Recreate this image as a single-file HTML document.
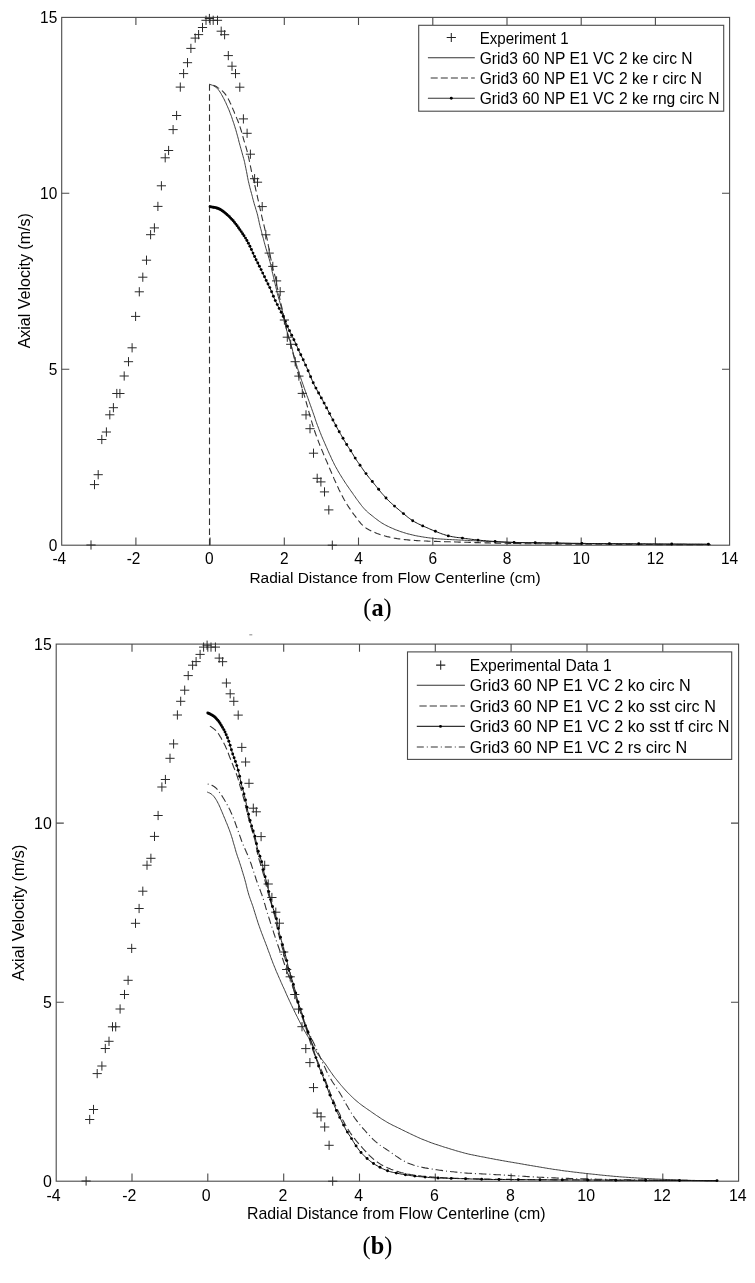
<!DOCTYPE html><html><head><meta charset="utf-8"><title>Axial velocity profiles</title><style>html,body{margin:0;padding:0;background:#fff}svg{display:block;filter:blur(0.3px)}text{font-family:"Liberation Sans",Arial,sans-serif;fill:#000}.cap{font-family:"Liberation Serif","Times New Roman",serif;font-weight:bold}</style></head><body>
<svg width="755" height="1283" viewBox="0 0 755 1283">
<rect width="755" height="1283" fill="#fff"/>
<rect x="61.7" y="17.4" width="667.9" height="527.8" fill="none" stroke="#4a4a4a" stroke-width="1.1"/>
<path d="M135.9,545.2v-7.6M135.9,17.4v7.6M210.1,545.2v-7.6M210.1,17.4v7.6M284.3,545.2v-7.6M284.3,17.4v7.6M358.5,545.2v-7.6M358.5,17.4v7.6M432.8,545.2v-7.6M432.8,17.4v7.6M507.0,545.2v-7.6M507.0,17.4v7.6M581.2,545.2v-7.6M581.2,17.4v7.6M655.4,545.2v-7.6M655.4,17.4v7.6M61.7,369.3h7.6M729.6,369.3h-7.6M61.7,193.3h7.6M729.6,193.3h-7.6" stroke="#4a4a4a" stroke-width="1.1" fill="none"/>
<text x="59.3" y="564.3" font-size="15.90" text-anchor="middle" textLength="13.74" lengthAdjust="spacingAndGlyphs">-4</text>
<text x="133.5" y="564.3" font-size="15.90" text-anchor="middle" textLength="13.74" lengthAdjust="spacingAndGlyphs">-2</text>
<text x="209.3" y="564.3" font-size="15.90" text-anchor="middle" textLength="8.60" lengthAdjust="spacingAndGlyphs">0</text>
<text x="284.3" y="564.3" font-size="15.90" text-anchor="middle" textLength="8.60" lengthAdjust="spacingAndGlyphs">2</text>
<text x="358.5" y="564.3" font-size="15.90" text-anchor="middle" textLength="8.60" lengthAdjust="spacingAndGlyphs">4</text>
<text x="432.8" y="564.3" font-size="15.90" text-anchor="middle" textLength="8.60" lengthAdjust="spacingAndGlyphs">6</text>
<text x="507.0" y="564.3" font-size="15.90" text-anchor="middle" textLength="8.60" lengthAdjust="spacingAndGlyphs">8</text>
<text x="581.2" y="564.3" font-size="15.90" text-anchor="middle" textLength="17.19" lengthAdjust="spacingAndGlyphs">10</text>
<text x="655.4" y="564.3" font-size="15.90" text-anchor="middle" textLength="17.19" lengthAdjust="spacingAndGlyphs">12</text>
<text x="729.6" y="564.3" font-size="15.90" text-anchor="middle" textLength="17.19" lengthAdjust="spacingAndGlyphs">14</text>
<text x="57.3" y="550.7" font-size="15.90" text-anchor="end" textLength="8.60" lengthAdjust="spacingAndGlyphs">0</text>
<text x="57.3" y="374.8" font-size="15.90" text-anchor="end" textLength="8.60" lengthAdjust="spacingAndGlyphs">5</text>
<text x="57.3" y="198.8" font-size="15.90" text-anchor="end" textLength="17.19" lengthAdjust="spacingAndGlyphs">10</text>
<text x="57.3" y="22.9" font-size="15.90" text-anchor="end" textLength="17.19" lengthAdjust="spacingAndGlyphs">15</text>
<text x="395.0" y="582.6" font-size="15.50" text-anchor="middle">Radial Distance from Flow Centerline (cm)</text>
<text transform="translate(29.9,280.8) rotate(-90)" font-size="16.00" text-anchor="middle">Axial Velocity (m/s)</text>
<path d="M209.7,84.4L211.1,84.8 212.5,85.3 213.8,85.9 215.1,86.7 216.3,87.6 217.4,88.5 218.3,89.6 219.2,90.8 220.1,92.1 220.9,93.4 221.6,94.7 222.4,96.0 223.1,97.4 223.8,98.7 224.5,100.0 225.1,101.4 225.8,102.7 226.4,104.1 227.0,105.5 227.6,106.8 228.2,108.2 228.8,109.6 229.4,111.0 229.9,112.4 230.4,113.8 231.0,115.2 231.5,116.6 232.0,118.0 232.4,119.4 232.9,120.9 233.4,122.3 233.9,123.7 234.3,125.1 234.8,126.6 235.2,128.0 235.7,129.4 236.1,130.9 236.5,132.3 236.9,133.8 237.3,135.2 237.7,136.7 238.1,138.1 238.5,139.6 238.8,141.0 239.2,142.5 239.6,143.9 240.0,145.4 240.4,146.8 240.8,148.3 241.2,149.7 241.6,151.1 242.0,152.6 242.4,154.0 242.8,155.5 243.2,156.9 243.6,158.4 244.0,159.8 244.4,161.3 244.7,162.7 245.0,164.2 245.3,165.7 245.6,167.1 245.9,168.6 246.2,170.1 246.5,171.5 246.8,173.0 247.1,174.5 247.3,176.0 247.6,177.4 247.9,178.9 248.2,180.4 248.5,181.8 248.9,183.3 249.2,184.8 249.6,186.2 249.9,187.7 250.3,189.1 250.7,190.6 251.1,192.0 251.5,193.5 251.9,194.9 252.3,196.4 252.6,197.8 253.0,199.3 253.4,200.7 253.8,202.2 254.2,203.6 254.6,205.1 255.1,206.5 255.5,207.9 255.9,209.4 256.4,210.8 256.8,212.2 257.2,213.7 257.6,215.1 257.9,216.6 258.2,218.0 258.6,219.5 258.9,221.0 259.2,222.4 259.5,223.9 259.9,225.4 260.2,226.8 260.6,228.3 261.0,229.7 261.4,231.2 261.7,232.6 262.1,234.1 262.5,235.5 262.9,237.0 263.3,238.4 263.7,239.9 264.0,241.3 264.4,242.8 264.8,244.2 265.2,245.7 265.6,247.1 266.0,248.6 266.5,250.0 266.9,251.4 267.3,252.9 267.8,254.3 268.2,255.7 268.7,257.2 269.1,258.6 269.5,260.0 269.9,261.5 270.3,263.0 270.6,264.4 270.9,265.9 271.3,267.3 271.6,268.8 271.9,270.3 272.2,271.7 272.6,273.2 272.9,274.6 273.3,276.1 273.6,277.6 274.0,279.0 274.3,280.5 274.6,281.9 275.0,283.4 275.3,284.9 275.7,286.3 276.0,287.8 276.4,289.2 276.7,290.7 277.1,292.2 277.4,293.6 277.8,295.1 278.2,296.5 278.6,298.0 279.0,299.4 279.5,300.8 279.9,302.3 280.3,303.7 280.7,305.1 281.1,306.6 281.5,308.0 281.9,309.5 282.2,311.0 282.6,312.4 282.9,313.9 283.2,315.4 283.5,316.8 283.8,318.3 284.2,319.8 284.5,321.2 284.8,322.7 285.1,324.1 285.5,325.6 285.9,327.1 286.2,328.5 286.6,330.0 287.0,331.4 287.4,332.8 287.9,334.3 288.3,335.7 288.7,337.2 289.2,338.6 289.6,340.0 290.0,341.5 290.5,342.9 290.9,344.3 291.3,345.8 291.7,347.2 292.1,348.7 292.5,350.1 292.8,351.6 293.2,353.0 293.6,354.5 294.0,355.9 294.4,357.4 294.8,358.8 295.2,360.3 295.6,361.7 296.0,363.2 296.4,364.6 296.9,366.0 297.3,367.5 297.8,368.9 298.2,370.3 298.7,371.7 299.1,373.2 299.6,374.6 300.1,376.0 300.6,377.4 301.0,378.9 301.5,380.3 302.0,381.7 302.5,383.1 303.0,384.5 303.5,385.9 304.0,387.4 304.5,388.8 305.0,390.2 305.5,391.6 306.0,393.0 306.5,394.4 307.0,395.8 307.6,397.2 308.1,398.7 308.6,400.1 309.1,401.5 309.6,402.9 310.1,404.3 310.6,405.7 311.1,407.1 311.6,408.5 312.1,410.0 312.6,411.4 313.1,412.8 313.6,414.2 314.1,415.6 314.6,417.0 315.1,418.5 315.5,419.9 316.0,421.3 316.5,422.7 317.0,424.1 317.5,425.5 318.1,426.9 318.6,428.3 319.1,429.7 319.7,431.1 320.2,432.5 320.8,433.9 321.3,435.3 321.9,436.7 322.5,438.1 323.1,439.5 323.7,440.8 324.3,442.2 324.9,443.6 325.5,445.0 326.1,446.3 326.7,447.7 327.3,449.1 327.9,450.5 328.5,451.8 329.1,453.2 329.7,454.6 330.4,455.9 331.0,457.3 331.6,458.7 332.2,460.0 332.9,461.4 333.6,462.7 334.2,464.1 334.9,465.4 335.6,466.7 336.3,468.0 337.1,469.3 337.8,470.7 338.6,472.0 339.3,473.2 340.1,474.5 340.9,475.8 341.7,477.1 342.5,478.4 343.3,479.6 344.1,480.9 344.9,482.1 345.7,483.4 346.6,484.6 347.4,485.9 348.3,487.1 349.1,488.3 350.0,489.6 350.8,490.8 351.7,492.0 352.6,493.2 353.4,494.5 354.3,495.7 355.2,496.9 356.0,498.2 356.9,499.4 357.8,500.6 358.7,501.8 359.6,503.0 360.5,504.2 361.4,505.4 362.4,506.6 363.3,507.7 364.3,508.8 365.4,509.9 366.4,511.0 367.5,512.0 368.7,513.0 369.8,513.9 371.0,514.9 372.2,515.8 373.3,516.7 374.5,517.7 375.7,518.6 376.9,519.5 378.1,520.4 379.3,521.3 380.5,522.1 381.8,523.0 383.1,523.7 384.4,524.5 385.7,525.2 387.0,525.9 388.4,526.5 389.7,527.2 391.1,527.8 392.5,528.4 393.9,529.0 395.2,529.6 396.6,530.1 398.0,530.6 399.5,531.2 400.9,531.7 402.3,532.1 403.7,532.6 405.2,533.0 406.6,533.5 408.0,533.9 409.5,534.2 410.9,534.6 412.4,534.9 413.9,535.3 415.3,535.6 416.8,535.9 418.3,536.2 419.8,536.4 421.2,536.7 422.7,536.9 424.2,537.2 425.7,537.4 427.2,537.6 428.7,537.8 430.2,538.0 431.6,538.2 433.1,538.3 434.6,538.5 436.1,538.6 437.6,538.8 439.1,538.9 440.6,539.0 442.1,539.1 443.6,539.2 445.1,539.3 446.6,539.4 448.1,539.5 449.6,539.5 451.1,539.6 452.6,539.7 454.1,539.8 455.6,539.8 457.1,539.9 458.6,540.0 460.1,540.1 461.6,540.1 463.1,540.2 464.6,540.3 466.1,540.3 467.6,540.4 469.1,540.5 470.6,540.6 472.1,540.6 473.6,540.7 475.1,540.8 476.6,540.9 478.1,540.9 479.6,541.0 481.0,541.1 482.5,541.1 484.0,541.2 485.5,541.3 487.0,541.4 488.5,541.4 490.0,541.5 491.5,541.6 493.0,541.6 494.5,541.7 496.0,541.8 497.5,541.8 499.0,541.9 500.5,542.0 502.0,542.0 503.5,542.1 505.0,542.1 506.5,542.2 508.0,542.2 509.5,542.3 511.0,542.3 512.5,542.4 514.0,542.4 515.5,542.4 517.0,542.5 518.5,542.5 520.0,542.6 521.5,542.6 523.0,542.6 524.5,542.7 526.0,542.7 527.5,542.7 529.0,542.8 530.5,542.8 532.0,542.8 533.5,542.9 535.0,542.9 536.5,542.9 538.0,543.0 539.5,543.0 541.0,543.0 542.5,543.0 544.0,543.1 545.5,543.1 547.0,543.1 548.5,543.2 550.0,543.2 551.5,543.2 553.0,543.2 554.5,543.2 556.0,543.3 557.5,543.3 559.0,543.3 560.5,543.3 562.0,543.4 563.5,543.4 565.0,543.4 566.5,543.4 568.0,543.4 569.5,543.5 571.0,543.5 572.5,543.5 574.0,543.5 575.5,543.5 577.0,543.6 578.5,543.6 580.0,543.6 581.5,543.6 583.0,543.6 584.5,543.6 586.0,543.7 587.5,543.7 589.0,543.7 590.5,543.7 592.0,543.7 593.5,543.7 595.0,543.8 596.5,543.8 598.0,543.8 599.5,543.8 601.0,543.8 602.5,543.8 604.0,543.8 605.5,543.8 607.0,543.9 608.5,543.9 610.0,543.9 611.5,543.9 613.0,543.9 614.5,543.9 616.0,543.9 617.5,543.9 619.0,544.0 620.5,544.0 622.0,544.0 623.5,544.0 625.0,544.0 626.5,544.0 628.0,544.0 629.5,544.0 631.0,544.0 632.5,544.0 634.0,544.0 635.5,544.1 637.0,544.1 638.5,544.1 640.0,544.1 641.5,544.1 643.0,544.1 644.5,544.1 646.0,544.1 647.5,544.1 649.0,544.1 650.5,544.1 652.0,544.2 653.5,544.2 655.0,544.2 656.5,544.2 658.0,544.2 659.5,544.2 661.0,544.2 662.5,544.2 664.0,544.2 665.5,544.2 667.0,544.2 668.5,544.2 670.0,544.3 671.5,544.3 673.0,544.3 674.5,544.3 676.0,544.3 677.5,544.3 679.0,544.3 680.5,544.3 682.0,544.3 683.5,544.3 685.0,544.3 686.5,544.4 688.0,544.4 689.5,544.4 691.0,544.4 692.5,544.4 694.0,544.4 695.5,544.4 697.0,544.4 698.5,544.4 700.0,544.4 701.5,544.4 703.0,544.5 704.5,544.5 706.0,544.5 707.5,544.5 709.0,544.5 710.5,544.5" stroke="#333333" stroke-width="0.95" fill="none"/>
<path d="M209.5,545.2L209.5,85.2L209.7,84.4L211.1,84.7 212.5,85.1 213.9,85.5 215.3,86.1 216.6,86.8 217.8,87.6 219.1,88.4 220.3,89.3 221.5,90.2 222.6,91.2 223.7,92.3 224.7,93.4 225.6,94.6 226.5,95.8 227.3,97.0 228.0,98.3 228.7,99.7 229.4,101.0 230.0,102.4 230.7,103.7 231.3,105.1 231.9,106.5 232.4,107.9 233.0,109.3 233.6,110.6 234.2,112.0 234.7,113.4 235.3,114.8 235.9,116.2 236.5,117.6 237.0,118.9 237.6,120.3 238.2,121.7 238.7,123.1 239.2,124.5 239.7,125.9 240.2,127.4 240.6,128.8 241.1,130.2 241.5,131.7 241.9,133.1 242.3,134.5 242.7,136.0 243.1,137.4 243.5,138.9 243.9,140.3 244.4,141.8 244.8,143.2 245.2,144.6 245.7,146.1 246.1,147.5 246.5,148.9 246.9,150.4 247.3,151.8 247.6,153.3 248.0,154.7 248.3,156.2 248.7,157.7 249.0,159.1 249.3,160.6 249.6,162.1 249.9,163.5 250.2,165.0 250.5,166.5 250.8,167.9 251.1,169.4 251.4,170.9 251.7,172.3 252.0,173.8 252.4,175.3 252.7,176.7 253.1,178.2 253.4,179.6 253.8,181.1 254.1,182.5 254.5,184.0 254.8,185.5 255.2,186.9 255.5,188.4 255.8,189.8 256.2,191.3 256.5,192.7 256.9,194.2 257.2,195.7 257.5,197.1 257.8,198.6 258.2,200.1 258.5,201.5 258.8,203.0 259.1,204.4 259.4,205.9 259.8,207.4 260.1,208.8 260.4,210.3 260.7,211.8 261.1,213.2 261.4,214.7 261.7,216.1 262.1,217.6 262.4,219.1 262.8,220.5 263.2,222.0 263.5,223.4 263.9,224.9 264.2,226.3 264.6,227.8 264.9,229.3 265.2,230.7 265.6,232.2 265.9,233.6 266.2,235.1 266.5,236.6 266.9,238.0 267.2,239.5 267.5,241.0 267.8,242.4 268.1,243.9 268.3,245.4 268.6,246.8 268.9,248.3 269.2,249.8 269.5,251.3 269.7,252.7 270.0,254.2 270.3,255.7 270.5,257.2 270.8,258.6 271.1,260.1 271.3,261.6 271.6,263.1 271.9,264.5 272.2,266.0 272.6,267.5 272.9,268.9 273.3,270.4 273.7,271.8 274.1,273.2 274.6,274.6 275.0,276.1 275.4,277.5 275.7,279.0 276.0,280.4 276.2,281.9 276.5,283.4 276.7,284.8 277.0,286.3 277.3,287.8 277.7,289.2 278.0,290.7 278.4,292.2 278.7,293.6 279.0,295.1 279.4,296.5 279.7,298.0 280.0,299.5 280.4,300.9 280.7,302.4 281.0,303.9 281.3,305.3 281.7,306.8 282.0,308.2 282.3,309.7 282.6,311.2 283.0,312.6 283.3,314.1 283.6,315.6 283.9,317.0 284.2,318.5 284.5,320.0 284.8,321.4 285.1,322.9 285.5,324.4 285.8,325.8 286.1,327.3 286.4,328.7 286.8,330.2 287.1,331.7 287.5,333.1 287.8,334.6 288.2,336.0 288.6,337.5 289.1,338.9 289.5,340.3 289.9,341.8 290.3,343.2 290.8,344.6 291.2,346.1 291.6,347.5 291.9,349.0 292.3,350.4 292.7,351.9 293.0,353.3 293.4,354.8 293.8,356.2 294.1,357.7 294.4,359.2 294.8,360.6 295.1,362.1 295.5,363.5 295.9,365.0 296.2,366.4 296.6,367.9 296.9,369.4 297.3,370.8 297.7,372.3 298.1,373.7 298.4,375.2 298.8,376.6 299.2,378.0 299.6,379.5 300.0,380.9 300.4,382.4 300.9,383.8 301.3,385.3 301.7,386.7 302.1,388.1 302.5,389.6 303.0,391.0 303.4,392.4 303.8,393.9 304.3,395.3 304.7,396.7 305.1,398.2 305.5,399.6 305.9,401.1 306.3,402.5 306.7,404.0 307.1,405.4 307.5,406.8 307.9,408.3 308.3,409.7 308.7,411.2 309.1,412.6 309.5,414.1 309.9,415.5 310.3,416.9 310.7,418.4 311.1,419.8 311.6,421.3 312.0,422.7 312.4,424.1 312.9,425.6 313.3,427.0 313.8,428.4 314.3,429.8 314.7,431.3 315.2,432.7 315.7,434.1 316.2,435.5 316.7,436.9 317.2,438.3 317.8,439.7 318.3,441.1 318.8,442.5 319.4,443.9 319.9,445.3 320.5,446.7 321.0,448.1 321.6,449.5 322.2,450.9 322.8,452.3 323.3,453.6 323.9,455.0 324.5,456.4 325.1,457.8 325.7,459.2 326.3,460.5 326.9,461.9 327.5,463.3 328.0,464.7 328.6,466.0 329.2,467.4 329.8,468.8 330.4,470.2 331.0,471.6 331.6,472.9 332.2,474.3 332.8,475.7 333.4,477.1 333.9,478.4 334.5,479.8 335.2,481.2 335.8,482.6 336.4,483.9 337.0,485.3 337.6,486.6 338.3,488.0 338.9,489.4 339.6,490.7 340.2,492.1 340.9,493.4 341.6,494.7 342.3,496.1 343.0,497.4 343.7,498.7 344.4,500.0 345.2,501.3 345.9,502.6 346.7,503.9 347.5,505.2 348.3,506.4 349.1,507.7 350.0,508.9 350.8,510.1 351.7,511.4 352.5,512.6 353.4,513.8 354.3,515.0 355.2,516.2 356.1,517.4 357.0,518.6 357.9,519.8 358.8,521.0 359.8,522.2 360.7,523.3 361.7,524.4 362.8,525.4 363.9,526.4 365.1,527.3 366.3,528.2 367.6,529.0 368.9,529.7 370.3,530.4 371.6,531.1 373.0,531.7 374.4,532.3 375.8,532.9 377.2,533.5 378.6,534.0 380.0,534.5 381.5,534.9 382.9,535.4 384.3,535.8 385.8,536.2 387.2,536.6 388.7,536.9 390.1,537.3 391.6,537.6 393.1,537.9 394.5,538.2 396.0,538.4 397.5,538.7 399.0,538.9 400.5,539.1 401.9,539.3 403.4,539.5 404.9,539.6 406.4,539.8 407.9,539.9 409.4,540.1 410.9,540.2 412.4,540.3 413.9,540.4 415.4,540.5 416.9,540.6 418.4,540.7 419.9,540.8 421.4,540.8 422.9,540.9 424.4,541.0 425.9,541.0 427.4,541.1 428.8,541.2 430.3,541.2 431.8,541.3 433.3,541.3 434.8,541.4 436.3,541.4 437.8,541.5 439.3,541.5 440.8,541.6 442.3,541.6 443.8,541.6 445.3,541.7 446.8,541.7 448.3,541.8 449.8,541.8 451.3,541.9 452.8,541.9 454.3,541.9 455.8,542.0 457.3,542.0 458.8,542.1 460.3,542.1 461.8,542.2 463.3,542.2 464.8,542.3 466.3,542.3 467.8,542.3 469.3,542.4 470.8,542.4 472.3,542.5 473.8,542.5 475.3,542.6 476.8,542.6 478.3,542.6 479.8,542.7 481.3,542.7 482.8,542.8 484.3,542.8 485.8,542.9 487.3,542.9 488.8,542.9 490.3,543.0 491.8,543.0 493.2,543.0 494.7,543.1 496.2,543.1 497.7,543.1 499.2,543.2 500.7,543.2 502.2,543.2 503.7,543.3 505.2,543.3 506.7,543.3 508.2,543.4 509.7,543.4 511.2,543.4 512.7,543.4 514.2,543.5 515.7,543.5 517.2,543.5 518.7,543.5 520.2,543.6 521.7,543.6 523.2,543.6 524.7,543.6 526.2,543.7 527.7,543.7 529.2,543.7 530.7,543.7 532.2,543.7 533.7,543.7 535.2,543.8 536.7,543.8 538.2,543.8 539.7,543.8 541.2,543.8 542.7,543.8 544.2,543.9 545.7,543.9 547.2,543.9 548.7,543.9 550.2,543.9 551.7,543.9 553.2,543.9 554.7,544.0 556.2,544.0 557.7,544.0 559.2,544.0 560.7,544.0 562.2,544.0 563.7,544.0 565.2,544.0 566.7,544.1 568.2,544.1 569.7,544.1 571.2,544.1 572.7,544.1 574.2,544.1 575.7,544.1 577.1,544.1 578.6,544.1 580.1,544.2 581.6,544.2 583.1,544.2 584.6,544.2 586.1,544.2 587.6,544.2 589.1,544.2 590.6,544.2 592.1,544.2 593.6,544.2 595.1,544.3 596.6,544.3 598.1,544.3 599.6,544.3 601.1,544.3 602.6,544.3 604.1,544.3 605.6,544.3 607.1,544.3 608.6,544.3 610.1,544.3 611.6,544.4 613.1,544.4 614.6,544.4 616.1,544.4 617.6,544.4 619.1,544.4 620.6,544.4 622.1,544.4 623.6,544.4 625.1,544.4 626.6,544.4 628.1,544.4 629.6,544.4 631.1,544.5 632.6,544.5 634.1,544.5 635.6,544.5 637.1,544.5 638.6,544.5 640.1,544.5 641.6,544.5 643.1,544.5 644.6,544.5 646.1,544.5 647.6,544.5 649.1,544.5 650.6,544.5 652.1,544.5 653.6,544.5 655.1,544.5 656.6,544.6 658.1,544.6 659.6,544.6 661.1,544.6 662.6,544.6 664.1,544.6 665.5,544.6 667.0,544.6 668.5,544.6 670.0,544.6 671.5,544.6 673.0,544.6 674.5,544.6 676.0,544.6 677.5,544.6 679.0,544.6 680.5,544.6 682.0,544.6 683.5,544.6 685.0,544.6 686.5,544.6 688.0,544.6 689.5,544.6 691.0,544.7 692.5,544.7 694.0,544.7 695.5,544.7 697.0,544.7 698.5,544.7 700.0,544.7 701.5,544.7 703.0,544.7 704.5,544.7 706.0,544.7 707.5,544.7 709.0,544.7 710.5,544.7" stroke="#333333" stroke-width="1.1" fill="none" stroke-dasharray="6.6 3.5"/>
<path d="M209.5,206.8L211.0,206.9 212.5,207.1 214.0,207.3 215.5,207.6 216.9,208.1 218.3,208.6 219.6,209.2 220.9,209.9 222.2,210.7 223.4,211.5 224.6,212.5 225.8,213.4 226.9,214.4 228.0,215.5 229.1,216.5 230.1,217.6 231.2,218.6 232.2,219.7 233.2,220.9 234.2,222.0 235.1,223.2 236.0,224.4 236.9,225.6 237.8,226.8 238.7,228.0 239.5,229.2 240.4,230.4 241.3,231.7 242.1,232.9 242.9,234.2 243.8,235.4 244.6,236.7 245.4,237.9 246.2,239.2 246.9,240.5 247.7,241.8 248.4,243.1 249.1,244.4 249.7,245.8 250.4,247.1 251.0,248.5 251.6,249.9 252.2,251.3 252.8,252.6 253.4,254.0 254.0,255.4 254.6,256.7 255.3,258.1 256.0,259.4 256.6,260.8 257.3,262.1 258.0,263.4 258.7,264.8 259.3,266.1 260.0,267.5 260.7,268.8 261.3,270.1 262.0,271.5 262.6,272.8 263.3,274.2 263.9,275.5 264.6,276.9 265.2,278.3 265.8,279.6 266.5,281.0 267.1,282.3 267.8,283.7 268.5,285.0 269.1,286.3 269.8,287.7 270.4,289.0 271.0,290.4 271.6,291.8 272.2,293.2 272.8,294.6 273.4,295.9 273.9,297.3 274.5,298.7 275.1,300.1 275.7,301.4 276.4,302.8 277.0,304.1 277.7,305.5 278.4,306.8 279.1,308.1 279.8,309.5 280.5,310.8 281.1,312.1 281.8,313.5 282.5,314.8 283.1,316.2 283.7,317.5 284.3,318.9 284.9,320.3 285.5,321.7 286.1,323.1 286.6,324.4 287.2,325.8 287.8,327.2 288.4,328.6 289.1,329.9 289.7,331.3 290.4,332.6 291.1,334.0 291.7,335.3 292.4,336.6 293.1,338.0 293.7,339.3 294.4,340.7 295.0,342.0 295.6,343.4 296.2,344.8 296.9,346.1 297.5,347.5 298.1,348.9 298.7,350.2 299.3,351.6 299.9,353.0 300.6,354.3 301.2,355.7 301.9,357.0 302.5,358.4 303.1,359.7 303.8,361.1 304.4,362.4 305.0,363.8 305.7,365.2 306.3,366.5 306.9,367.9 307.5,369.3 308.1,370.7 308.7,372.0 309.3,373.4 309.8,374.8 310.4,376.2 311.0,377.6 311.6,379.0 312.1,380.3 312.8,381.7 313.4,383.1 314.0,384.4 314.7,385.8 315.3,387.1 316.1,388.4 316.8,389.7 317.5,391.0 318.2,392.4 319.0,393.7 319.7,395.0 320.4,396.3 321.2,397.6 321.9,398.9 322.6,400.2 323.3,401.5 324.0,402.9 324.7,404.2 325.4,405.5 326.1,406.8 326.8,408.2 327.5,409.5 328.2,410.8 328.9,412.2 329.5,413.5 330.2,414.8 330.9,416.2 331.6,417.5 332.3,418.8 333.0,420.1 333.7,421.5 334.4,422.8 335.1,424.1 335.8,425.4 336.5,426.8 337.2,428.1 337.9,429.4 338.7,430.7 339.4,432.0 340.1,433.3 340.9,434.6 341.6,435.9 342.3,437.2 343.1,438.5 343.8,439.8 344.6,441.1 345.4,442.4 346.1,443.7 346.9,445.0 347.7,446.2 348.6,447.5 349.4,448.7 350.2,450.0 351.0,451.2 351.8,452.5 352.6,453.8 353.4,455.1 354.1,456.4 354.9,457.6 355.7,458.9 356.5,460.2 357.4,461.4 358.2,462.6 359.1,463.8 360.0,465.1 360.8,466.3 361.7,467.5 362.5,468.8 363.4,470.0 364.2,471.2 365.1,472.4 366.0,473.7 366.9,474.8 367.8,476.0 368.7,477.2 369.7,478.4 370.6,479.5 371.6,480.7 372.5,481.9 373.5,483.0 374.4,484.2 375.4,485.3 376.3,486.5 377.3,487.7 378.2,488.8 379.2,490.0 380.1,491.2 381.0,492.3 382.0,493.5 383.0,494.6 384.0,495.7 384.9,496.9 386.0,498.0 387.0,499.1 388.0,500.1 389.1,501.2 390.2,502.2 391.3,503.2 392.4,504.2 393.5,505.2 394.6,506.2 395.8,507.2 396.9,508.2 398.1,509.1 399.2,510.1 400.4,511.1 401.5,512.0 402.7,513.0 403.8,513.9 405.0,514.9 406.2,515.8 407.3,516.8 408.5,517.7 409.7,518.6 410.9,519.5 412.2,520.3 413.4,521.1 414.7,521.9 416.0,522.6 417.3,523.3 418.7,524.0 420.0,524.6 421.4,525.3 422.8,525.9 424.1,526.5 425.5,527.1 426.9,527.7 428.3,528.3 429.6,528.9 431.0,529.5 432.4,530.1 433.8,530.6 435.2,531.2 436.6,531.8 437.9,532.3 439.3,532.9 440.7,533.4 442.2,534.0 443.6,534.4 445.0,534.9 446.4,535.3 447.9,535.7 449.3,536.1 450.8,536.4 452.2,536.7 453.7,536.9 455.2,537.2 456.7,537.4 458.2,537.6 459.7,537.7 461.2,537.9 462.7,538.1 464.1,538.3 465.6,538.5 467.1,538.7 468.6,538.9 470.1,539.1 471.6,539.3 473.1,539.5 474.5,539.6 476.0,539.8 477.5,540.0 479.0,540.2 480.5,540.3 482.0,540.5 483.5,540.6 485.0,540.7 486.5,540.9 488.0,541.0 489.5,541.1 491.0,541.2 492.4,541.3 493.9,541.4 495.4,541.5 496.9,541.6 498.4,541.7 499.9,541.8 501.4,541.9 502.9,542.0 504.4,542.1 505.9,542.1 507.4,542.2 508.9,542.3 510.4,542.3 511.9,542.4 513.4,542.5 514.9,542.5 516.4,542.5 517.9,542.6 519.4,542.6 520.9,542.6 522.4,542.6 523.9,542.7 525.4,542.7 526.9,542.7 528.4,542.7 529.9,542.7 531.4,542.7 532.9,542.7 534.4,542.7 535.9,542.7 537.4,542.7 538.9,542.7 540.4,542.7 541.9,542.8 543.4,542.8 544.9,542.8 546.4,542.8 547.9,542.8 549.4,542.9 550.9,542.9 552.4,542.9 553.9,542.9 555.4,543.0 556.9,543.0 558.3,543.0 559.8,543.0 561.3,543.1 562.8,543.1 564.3,543.1 565.8,543.2 567.3,543.2 568.8,543.2 570.3,543.2 571.8,543.3 573.3,543.3 574.8,543.3 576.3,543.3 577.8,543.3 579.3,543.4 580.8,543.4 582.3,543.4 583.8,543.4 585.3,543.4 586.8,543.5 588.3,543.5 589.8,543.5 591.3,543.5 592.8,543.5 594.3,543.5 595.8,543.5 597.3,543.5 598.8,543.5 600.3,543.5 601.8,543.6 603.3,543.6 604.8,543.6 606.3,543.6 607.8,543.6 609.3,543.6 610.8,543.6 612.3,543.6 613.8,543.6 615.3,543.6 616.8,543.6 618.3,543.7 619.8,543.7 621.3,543.7 622.8,543.7 624.3,543.7 625.8,543.7 627.3,543.7 628.8,543.7 630.3,543.7 631.8,543.7 633.3,543.8 634.8,543.8 636.3,543.8 637.8,543.8 639.3,543.8 640.8,543.8 642.3,543.8 643.8,543.8 645.3,543.8 646.8,543.9 648.3,543.9 649.8,543.9 651.3,543.9 652.8,543.9 654.3,543.9 655.8,543.9 657.2,543.9 658.7,543.9 660.2,543.9 661.7,543.9 663.2,544.0 664.7,544.0 666.2,544.0 667.7,544.0 669.2,544.0 670.7,544.0 672.2,544.0 673.7,544.0 675.2,544.0 676.7,544.0 678.2,544.0 679.7,544.0 681.2,544.0 682.7,544.0 684.2,544.0 685.7,544.0 687.2,544.1 688.7,544.1 690.2,544.1 691.7,544.1 693.2,544.1 694.7,544.1 696.2,544.1 697.7,544.1 699.2,544.1 700.7,544.1 702.2,544.1 703.7,544.1 705.2,544.1 706.7,544.1 708.2,544.1" stroke="#111" stroke-width="1.0" fill="none"/>
<g fill="#000"><circle cx="210.1" cy="206.8" r="1.45"/><circle cx="211.2" cy="206.9" r="1.45"/><circle cx="212.2" cy="207.1" r="1.45"/><circle cx="213.3" cy="207.2" r="1.45"/><circle cx="214.3" cy="207.4" r="1.45"/><circle cx="215.4" cy="207.6" r="1.45"/><circle cx="216.5" cy="208.0" r="1.45"/><circle cx="217.6" cy="208.3" r="1.45"/><circle cx="218.7" cy="208.8" r="1.45"/><circle cx="219.9" cy="209.3" r="1.45"/><circle cx="221.0" cy="209.9" r="1.45"/><circle cx="222.2" cy="210.7" r="1.45"/><circle cx="223.3" cy="211.5" r="1.45"/><circle cx="224.5" cy="212.4" r="1.45"/><circle cx="225.7" cy="213.4" r="1.45"/><circle cx="226.9" cy="214.5" r="1.45"/><circle cx="228.1" cy="215.6" r="1.45"/><circle cx="229.4" cy="216.8" r="1.45"/><circle cx="230.6" cy="218.1" r="1.45"/><circle cx="231.9" cy="219.4" r="1.45"/><circle cx="233.2" cy="220.8" r="1.45"/><circle cx="234.5" cy="222.4" r="1.45"/><circle cx="235.8" cy="224.1" r="1.45"/><circle cx="237.1" cy="225.8" r="1.45"/><circle cx="238.5" cy="227.7" r="1.45"/><circle cx="239.8" cy="229.6" r="1.45"/><circle cx="241.2" cy="231.6" r="1.45"/><circle cx="242.6" cy="233.7" r="1.45"/><circle cx="244.0" cy="235.8" r="1.45"/><circle cx="245.5" cy="238.1" r="1.45"/><circle cx="246.9" cy="240.5" r="1.45"/><circle cx="248.4" cy="243.2" r="1.45"/><circle cx="249.9" cy="246.2" r="1.45"/><circle cx="251.4" cy="249.5" r="1.45"/><circle cx="253.0" cy="253.1" r="1.45"/><circle cx="254.6" cy="256.5" r="1.45"/><circle cx="256.1" cy="259.8" r="1.45"/><circle cx="257.8" cy="263.0" r="1.45"/><circle cx="259.4" cy="266.2" r="1.45"/><circle cx="261.1" cy="269.6" r="1.45"/><circle cx="262.7" cy="273.1" r="1.45"/><circle cx="264.5" cy="276.7" r="1.45"/><circle cx="266.2" cy="280.4" r="1.45"/><circle cx="268.0" cy="284.0" r="1.45"/><circle cx="269.8" cy="287.6" r="1.45"/><circle cx="271.6" cy="291.7" r="1.45"/><circle cx="273.4" cy="296.2" r="1.45"/><circle cx="275.3" cy="300.6" r="1.45"/><circle cx="277.3" cy="304.6" r="1.45"/><circle cx="279.2" cy="308.4" r="1.45"/><circle cx="281.2" cy="312.3" r="1.45"/><circle cx="283.2" cy="316.4" r="1.45"/><circle cx="285.3" cy="321.2" r="1.45"/><circle cx="287.4" cy="326.2" r="1.45"/><circle cx="289.5" cy="330.8" r="1.45"/><circle cx="291.7" cy="335.2" r="1.45"/><circle cx="293.9" cy="339.7" r="1.45"/><circle cx="296.1" cy="344.6" r="1.45"/><circle cx="298.4" cy="349.7" r="1.45"/><circle cx="300.8" cy="354.8" r="1.45"/><circle cx="303.2" cy="359.8" r="1.45"/><circle cx="305.6" cy="365.1" r="1.45"/><circle cx="308.1" cy="370.7" r="1.45"/><circle cx="310.6" cy="376.7" r="1.45"/><circle cx="313.2" cy="382.7" r="1.45"/><circle cx="315.9" cy="388.1" r="1.45"/><circle cx="318.6" cy="393.0" r="1.45"/><circle cx="321.3" cy="397.9" r="1.45"/><circle cx="324.1" cy="403.1" r="1.45"/><circle cx="326.6" cy="407.9" r="1.45"/><circle cx="329.6" cy="413.6" r="1.45"/><circle cx="332.9" cy="420.0" r="1.45"/><circle cx="335.9" cy="425.7" r="1.45"/><circle cx="339.2" cy="431.8" r="1.45"/><circle cx="343.0" cy="438.3" r="1.45"/><circle cx="346.7" cy="444.5" r="1.45"/><circle cx="350.8" cy="450.8" r="1.45"/><circle cx="355.2" cy="458.1" r="1.45"/><circle cx="360.0" cy="465.2" r="1.45"/><circle cx="366.0" cy="473.6" r="1.45"/><circle cx="372.3" cy="481.5" r="1.45"/><circle cx="378.6" cy="489.3" r="1.45"/><circle cx="386.0" cy="498.0" r="1.45"/><circle cx="394.5" cy="506.1" r="1.45"/><circle cx="403.4" cy="513.6" r="1.45"/><circle cx="412.7" cy="520.7" r="1.45"/><circle cx="422.7" cy="525.9" r="1.45"/><circle cx="435.4" cy="531.3" r="1.45"/><circle cx="448.3" cy="535.9" r="1.45"/><circle cx="462.4" cy="538.1" r="1.45"/><circle cx="478.0" cy="540.1" r="1.45"/><circle cx="495.1" cy="541.5" r="1.45"/><circle cx="514.0" cy="542.5" r="1.45"/><circle cx="535.2" cy="542.7" r="1.45"/><circle cx="557.1" cy="543.0" r="1.45"/><circle cx="581.9" cy="543.4" r="1.45"/><circle cx="609.4" cy="543.6" r="1.45"/><circle cx="638.7" cy="543.8" r="1.45"/><circle cx="671.7" cy="544.0" r="1.45"/><circle cx="708.4" cy="544.1" r="1.45"/></g>
<path d="M86.4,545.0h9.2M91.0,540.4v9.2M89.9,484.6h9.2M94.5,480.0v9.2M93.6,474.7h9.2M98.2,470.1v9.2M97.2,439.5h9.2M101.8,434.9v9.2M101.8,432.0h9.2M106.4,427.4v9.2M105.2,414.8h9.2M109.8,410.2v9.2M108.8,407.7h9.2M113.4,403.1v9.2M112.2,393.5h9.2M116.8,388.9v9.2M115.3,393.5h9.2M119.9,388.9v9.2M119.6,376.0h9.2M124.2,371.4v9.2M123.9,361.7h9.2M128.5,357.1v9.2M127.5,347.8h9.2M132.1,343.2v9.2M131.0,316.4h9.2M135.6,311.8v9.2M134.7,291.8h9.2M139.3,287.2v9.2M138.2,277.2h9.2M142.8,272.6v9.2M141.9,260.2h9.2M146.5,255.6v9.2M146.0,234.7h9.2M150.6,230.1v9.2M149.8,227.9h9.2M154.4,223.3v9.2M153.3,206.4h9.2M157.9,201.8v9.2M156.8,185.8h9.2M161.4,181.2v9.2M160.6,157.8h9.2M165.2,153.2v9.2M164.0,150.5h9.2M168.6,145.9v9.2M168.5,129.6h9.2M173.1,125.0v9.2M172.0,115.5h9.2M176.6,110.9v9.2M175.7,87.1h9.2M180.3,82.5v9.2M179.0,73.6h9.2M183.6,69.0v9.2M182.9,62.7h9.2M187.5,58.1v9.2M186.3,48.4h9.2M190.9,43.8v9.2M190.6,38.1h9.2M195.2,33.5v9.2M194.0,34.6h9.2M198.6,30.0v9.2M197.9,27.5h9.2M202.5,22.9v9.2M201.4,20.3h9.2M206.0,15.7v9.2M204.8,18.5h9.2M209.4,13.9v9.2M208.6,20.3h9.2M213.2,15.7v9.2M212.9,20.3h9.2M217.5,15.7v9.2M216.6,31.2h9.2M221.2,26.6v9.2M220.0,34.7h9.2M224.6,30.1v9.2M223.7,55.6h9.2M228.3,51.0v9.2M227.4,66.2h9.2M232.0,61.6v9.2M230.9,73.6h9.2M235.5,69.0v9.2M235.2,87.2h9.2M239.8,82.6v9.2M238.8,118.9h9.2M243.4,114.3v9.2M242.5,133.3h9.2M247.1,128.7v9.2M245.8,154.2h9.2M250.4,149.6v9.2M250.0,178.7h9.2M254.6,174.1v9.2M252.9,182.2h9.2M257.5,177.6v9.2M257.6,206.6h9.2M262.2,202.0v9.2M261.2,234.8h9.2M265.8,230.2v9.2M264.6,253.1h9.2M269.2,248.5v9.2M268.2,266.4h9.2M272.8,261.8v9.2M272.0,280.9h9.2M276.6,276.3v9.2M275.6,291.7h9.2M280.2,287.1v9.2M279.8,320.0h9.2M284.4,315.4v9.2M282.7,337.2h9.2M287.3,332.6v9.2M286.1,344.3h9.2M290.7,339.7v9.2M290.6,361.7h9.2M295.2,357.1v9.2M294.3,376.1h9.2M298.9,371.5v9.2M297.7,393.4h9.2M302.3,388.8v9.2M301.4,414.9h9.2M306.0,410.3v9.2M305.4,428.7h9.2M310.0,424.1v9.2M308.9,453.2h9.2M313.5,448.6v9.2M312.6,478.3h9.2M317.2,473.7v9.2M316.3,481.9h9.2M320.9,477.3v9.2M319.9,491.9h9.2M324.5,487.3v9.2M324.2,509.9h9.2M328.8,505.3v9.2M327.7,545.2h9.2M332.3,540.6v9.2" stroke="#2a2a2a" stroke-width="1.0" fill="none"/>
<rect x="418.7" y="25.3" width="305.0" height="85.9" fill="#fff" stroke="#4a4a4a" stroke-width="1.1"/>
<path d="M446.7,37.5h9.2M451.3,32.9v9.2" stroke="#222" stroke-width="1.05" fill="none"/>
<path d="M427.9,57.8H474.8" stroke="#333333" stroke-width="1.1"/>
<path d="M430.7,78.0H474.8" stroke="#333333" stroke-width="1.1" stroke-dasharray="7 3.1"/>
<path d="M427.9,98.2H474.8" stroke="#333333" stroke-width="1.1"/><circle cx="451.3" cy="98.2" r="1.45"/>
<text x="479.7" y="43.6" font-size="15.6" textLength="88.88" lengthAdjust="spacingAndGlyphs">Experiment 1</text>
<text x="479.7" y="63.9" font-size="15.6">Grid3 60 NP E1 VC 2 ke circ N</text>
<text x="479.7" y="84.1" font-size="15.6">Grid3 60 NP E1 VC 2 ke r circ N</text>
<text x="479.7" y="104.3" font-size="15.6">Grid3 60 NP E1 VC 2 ke rng circ N</text>
<text class="cap" x="377.5" y="616.4" font-size="24.3" text-anchor="middle"><tspan font-weight="normal">(</tspan>a<tspan font-weight="normal">)</tspan></text>
<rect x="249.3" y="634.2" width="3" height="1.2" fill="#999"/>
<rect x="56.2" y="644.1" width="682.4" height="537.1" fill="none" stroke="#4a4a4a" stroke-width="1.1"/>
<path d="M132.0,1181.2v-7.6M132.0,644.1v7.6M207.8,1181.2v-7.6M207.8,644.1v7.6M283.7,1181.2v-7.6M283.7,644.1v7.6M359.5,1181.2v-7.6M359.5,644.1v7.6M435.3,1181.2v-7.6M435.3,644.1v7.6M511.1,1181.2v-7.6M511.1,644.1v7.6M587.0,1181.2v-7.6M587.0,644.1v7.6M662.8,1181.2v-7.6M662.8,644.1v7.6M56.2,1002.2h7.6M738.6,1002.2h-7.6M56.2,823.1h7.6M738.6,823.1h-7.6" stroke="#4a4a4a" stroke-width="1.1" fill="none"/>
<text x="53.5" y="1200.5" font-size="15.90" text-anchor="middle" textLength="14.14" lengthAdjust="spacingAndGlyphs">-4</text>
<text x="129.3" y="1200.5" font-size="15.90" text-anchor="middle" textLength="14.14" lengthAdjust="spacingAndGlyphs">-2</text>
<text x="206.2" y="1200.5" font-size="15.90" text-anchor="middle" textLength="8.84" lengthAdjust="spacingAndGlyphs">0</text>
<text x="282.9" y="1200.5" font-size="15.90" text-anchor="middle" textLength="8.84" lengthAdjust="spacingAndGlyphs">2</text>
<text x="358.7" y="1200.5" font-size="15.90" text-anchor="middle" textLength="8.84" lengthAdjust="spacingAndGlyphs">4</text>
<text x="434.5" y="1200.5" font-size="15.90" text-anchor="middle" textLength="8.84" lengthAdjust="spacingAndGlyphs">6</text>
<text x="510.3" y="1200.5" font-size="15.90" text-anchor="middle" textLength="8.84" lengthAdjust="spacingAndGlyphs">8</text>
<text x="586.2" y="1200.5" font-size="15.90" text-anchor="middle" textLength="17.69" lengthAdjust="spacingAndGlyphs">10</text>
<text x="662.0" y="1200.5" font-size="15.90" text-anchor="middle" textLength="17.69" lengthAdjust="spacingAndGlyphs">12</text>
<text x="737.8" y="1200.5" font-size="15.90" text-anchor="middle" textLength="17.69" lengthAdjust="spacingAndGlyphs">14</text>
<text x="51.8" y="1186.8" font-size="15.90" text-anchor="end" textLength="8.84" lengthAdjust="spacingAndGlyphs">0</text>
<text x="51.8" y="1007.8" font-size="15.90" text-anchor="end" textLength="8.84" lengthAdjust="spacingAndGlyphs">5</text>
<text x="51.8" y="828.7" font-size="15.90" text-anchor="end" textLength="17.69" lengthAdjust="spacingAndGlyphs">10</text>
<text x="51.8" y="649.7" font-size="15.90" text-anchor="end" textLength="17.69" lengthAdjust="spacingAndGlyphs">15</text>
<text x="396.2" y="1219.4" font-size="15.90" text-anchor="middle">Radial Distance from Flow Centerline (cm)</text>
<text transform="translate(23.8,912.7) rotate(-90)" font-size="16.10" text-anchor="middle">Axial Velocity (m/s)</text>
<path d="M207.2,792.0L208.5,792.6 209.8,793.1 211.1,793.9 212.2,794.7 213.2,795.7 214.2,796.8 215.1,798.1 215.9,799.3 216.7,800.6 217.4,801.9 218.1,803.3 218.8,804.6 219.4,806.0 220.1,807.4 220.6,808.7 221.2,810.1 221.8,811.5 222.4,812.9 223.0,814.3 223.5,815.6 224.1,817.0 224.7,818.4 225.3,819.8 225.8,821.2 226.4,822.6 227.0,823.9 227.5,825.3 228.1,826.7 228.6,828.1 229.2,829.5 229.7,830.9 230.2,832.3 230.7,833.7 231.2,835.2 231.6,836.6 232.1,838.0 232.5,839.4 232.9,840.9 233.3,842.3 233.7,843.8 234.2,845.2 234.6,846.6 235.0,848.1 235.4,849.5 235.8,851.0 236.2,852.4 236.7,853.8 237.1,855.2 237.6,856.7 238.1,858.1 238.6,859.5 239.1,860.9 239.5,862.3 240.0,863.8 240.5,865.2 240.9,866.6 241.4,868.0 241.8,869.5 242.2,870.9 242.7,872.3 243.1,873.8 243.5,875.2 244.0,876.6 244.4,878.1 244.8,879.5 245.2,881.0 245.6,882.4 246.0,883.9 246.3,885.3 246.7,886.8 247.0,888.2 247.4,889.7 247.8,891.1 248.2,892.6 248.6,894.0 249.0,895.4 249.5,896.8 250.0,898.3 250.5,899.7 251.0,901.1 251.5,902.5 252.0,903.9 252.5,905.3 253.0,906.7 253.4,908.2 253.9,909.6 254.3,911.0 254.8,912.5 255.2,913.9 255.7,915.3 256.1,916.7 256.5,918.2 257.0,919.6 257.5,921.0 257.9,922.5 258.4,923.9 258.9,925.3 259.4,926.7 259.9,928.1 260.4,929.5 260.9,930.9 261.4,932.3 261.9,933.7 262.5,935.1 263.0,936.5 263.5,937.9 264.1,939.3 264.6,940.7 265.2,942.1 265.7,943.5 266.2,944.9 266.8,946.3 267.3,947.7 267.8,949.1 268.3,950.5 268.8,951.9 269.4,953.3 269.9,954.7 270.4,956.2 270.9,957.6 271.4,959.0 272.0,960.4 272.5,961.8 273.0,963.2 273.6,964.6 274.1,965.9 274.7,967.3 275.3,968.7 275.8,970.1 276.4,971.5 277.0,972.9 277.6,974.2 278.2,975.6 278.8,977.0 279.4,978.4 280.0,979.7 280.6,981.1 281.2,982.5 281.8,983.8 282.4,985.2 283.0,986.6 283.7,987.9 284.3,989.3 284.9,990.7 285.5,992.0 286.1,993.4 286.7,994.8 287.3,996.1 287.9,997.5 288.6,998.9 289.2,1000.2 289.8,1001.6 290.5,1002.9 291.1,1004.3 291.7,1005.6 292.4,1007.0 293.0,1008.3 293.7,1009.7 294.3,1011.0 295.0,1012.4 295.6,1013.7 296.3,1015.1 297.0,1016.4 297.6,1017.7 298.3,1019.1 299.0,1020.4 299.7,1021.8 300.4,1023.1 301.1,1024.4 301.8,1025.7 302.5,1027.1 303.2,1028.4 303.9,1029.7 304.6,1031.0 305.4,1032.3 306.1,1033.6 306.9,1034.9 307.7,1036.2 308.4,1037.4 309.2,1038.7 310.0,1040.0 310.7,1041.3 311.5,1042.6 312.2,1043.9 312.9,1045.2 313.6,1046.6 314.3,1047.9 314.9,1049.2 315.7,1050.5 316.4,1051.8 317.2,1053.1 318.0,1054.4 318.9,1055.6 319.8,1056.8 320.7,1058.0 321.6,1059.2 322.5,1060.3 323.4,1061.5 324.4,1062.7 325.3,1063.9 326.1,1065.1 327.0,1066.3 327.8,1067.6 328.6,1068.8 329.5,1070.1 330.3,1071.3 331.2,1072.5 332.1,1073.8 332.9,1075.0 333.8,1076.2 334.7,1077.4 335.6,1078.5 336.6,1079.7 337.5,1080.9 338.5,1082.1 339.4,1083.2 340.4,1084.4 341.3,1085.5 342.3,1086.6 343.3,1087.8 344.3,1088.9 345.3,1090.0 346.3,1091.1 347.3,1092.2 348.4,1093.3 349.4,1094.3 350.5,1095.4 351.6,1096.4 352.6,1097.5 353.7,1098.5 354.8,1099.5 356.0,1100.5 357.1,1101.5 358.3,1102.4 359.4,1103.4 360.6,1104.3 361.8,1105.2 363.0,1106.1 364.2,1106.9 365.5,1107.8 366.7,1108.7 367.9,1109.5 369.2,1110.4 370.4,1111.2 371.6,1112.1 372.8,1112.9 374.1,1113.8 375.3,1114.6 376.5,1115.5 377.8,1116.3 379.0,1117.1 380.3,1118.0 381.5,1118.8 382.8,1119.6 384.1,1120.4 385.4,1121.2 386.6,1121.9 387.9,1122.7 389.2,1123.4 390.6,1124.1 391.9,1124.8 393.2,1125.5 394.6,1126.1 395.9,1126.8 397.3,1127.4 398.6,1128.1 400.0,1128.7 401.3,1129.4 402.7,1130.1 404.0,1130.7 405.3,1131.4 406.7,1132.0 408.0,1132.7 409.4,1133.3 410.7,1134.0 412.1,1134.6 413.4,1135.3 414.8,1135.9 416.2,1136.5 417.5,1137.2 418.9,1137.8 420.3,1138.4 421.6,1139.0 423.0,1139.5 424.4,1140.1 425.8,1140.6 427.2,1141.2 428.6,1141.7 430.0,1142.3 431.4,1142.8 432.8,1143.3 434.2,1143.8 435.6,1144.3 437.0,1144.7 438.5,1145.2 439.9,1145.7 441.3,1146.1 442.7,1146.6 444.2,1147.1 445.6,1147.5 447.0,1147.9 448.5,1148.4 449.9,1148.8 451.3,1149.3 452.8,1149.7 454.2,1150.1 455.6,1150.6 457.1,1151.0 458.5,1151.4 459.9,1151.8 461.4,1152.2 462.8,1152.6 464.3,1153.0 465.7,1153.4 467.2,1153.7 468.6,1154.1 470.1,1154.4 471.6,1154.7 473.0,1155.0 474.5,1155.3 476.0,1155.6 477.4,1155.9 478.9,1156.2 480.4,1156.5 481.8,1156.8 483.3,1157.0 484.8,1157.3 486.2,1157.6 487.7,1157.9 489.2,1158.2 490.7,1158.5 492.1,1158.7 493.6,1159.0 495.1,1159.3 496.5,1159.6 498.0,1159.8 499.5,1160.1 501.0,1160.4 502.4,1160.6 503.9,1160.9 505.4,1161.2 506.9,1161.4 508.3,1161.7 509.8,1161.9 511.3,1162.2 512.8,1162.4 514.2,1162.7 515.7,1162.9 517.2,1163.2 518.7,1163.4 520.1,1163.7 521.6,1163.9 523.1,1164.2 524.6,1164.5 526.0,1164.7 527.5,1165.0 529.0,1165.2 530.5,1165.5 531.9,1165.7 533.4,1166.0 534.9,1166.2 536.4,1166.5 537.9,1166.7 539.3,1167.0 540.8,1167.2 542.3,1167.5 543.8,1167.7 545.2,1168.0 546.7,1168.2 548.2,1168.5 549.7,1168.7 551.2,1168.9 552.6,1169.2 554.1,1169.4 555.6,1169.6 557.1,1169.8 558.6,1170.0 560.0,1170.2 561.5,1170.5 563.0,1170.7 564.5,1170.9 566.0,1171.1 567.5,1171.2 568.9,1171.4 570.4,1171.6 571.9,1171.8 573.4,1172.0 574.9,1172.2 576.4,1172.3 577.9,1172.5 579.3,1172.7 580.8,1172.9 582.3,1173.0 583.8,1173.2 585.3,1173.4 586.8,1173.5 588.3,1173.7 589.8,1173.9 591.3,1174.0 592.7,1174.2 594.2,1174.3 595.7,1174.5 597.2,1174.6 598.7,1174.8 600.2,1175.0 601.7,1175.1 603.2,1175.3 604.7,1175.4 606.2,1175.6 607.6,1175.7 609.1,1175.8 610.6,1176.0 612.1,1176.1 613.6,1176.3 615.1,1176.4 616.6,1176.5 618.1,1176.6 619.6,1176.8 621.1,1176.9 622.6,1177.0 624.1,1177.1 625.5,1177.2 627.0,1177.3 628.5,1177.4 630.0,1177.5 631.5,1177.7 633.0,1177.7 634.5,1177.8 636.0,1177.9 637.5,1178.0 639.0,1178.1 640.5,1178.2 642.0,1178.3 643.5,1178.4 645.0,1178.5 646.5,1178.5 648.0,1178.6 649.5,1178.7 651.0,1178.8 652.4,1178.8 653.9,1178.9 655.4,1179.0 656.9,1179.1 658.4,1179.1 659.9,1179.2 661.4,1179.3 662.9,1179.3 664.4,1179.4 665.9,1179.5 667.4,1179.5 668.9,1179.6 670.4,1179.7 671.9,1179.7 673.4,1179.8 674.9,1179.8 676.4,1179.9 677.9,1180.0 679.4,1180.0 680.9,1180.1 682.4,1180.1 683.9,1180.2 685.4,1180.2 686.9,1180.2 688.4,1180.3 689.9,1180.3 691.3,1180.4 692.8,1180.4 694.3,1180.4 695.8,1180.5 697.3,1180.5 698.8,1180.5 700.3,1180.6 701.8,1180.6 703.3,1180.6 704.8,1180.6 706.3,1180.7 707.8,1180.7 709.3,1180.7 710.8,1180.7 712.3,1180.7 713.8,1180.8 715.3,1180.8 716.8,1180.8" stroke="#333333" stroke-width="0.95" fill="none"/>
<path d="M209.9,726.1L211.2,726.9 212.4,727.8 213.6,728.6 214.8,729.6 215.9,730.5 216.9,731.6 217.8,732.8 218.6,734.0 219.4,735.3 220.2,736.6 221.0,737.8 221.7,739.2 222.4,740.5 223.1,741.8 223.8,743.1 224.5,744.5 225.2,745.8 225.8,747.2 226.4,748.5 227.0,749.9 227.6,751.3 228.1,752.7 228.6,754.1 229.1,755.5 229.6,756.9 230.2,758.3 230.7,759.7 231.3,761.1 231.8,762.5 232.4,763.9 233.0,765.3 233.5,766.7 234.1,768.1 234.7,769.5 235.2,770.9 235.8,772.3 236.3,773.7 236.8,775.1 237.3,776.5 237.7,777.9 238.2,779.3 238.6,780.8 239.0,782.2 239.4,783.7 239.8,785.1 240.2,786.6 240.7,788.0 241.1,789.4 241.5,790.9 241.9,792.3 242.3,793.8 242.8,795.2 243.2,796.6 243.6,798.1 244.0,799.5 244.4,801.0 244.7,802.4 245.1,803.9 245.4,805.3 245.8,806.8 246.2,808.2 246.5,809.7 246.8,811.2 247.2,812.6 247.5,814.1 247.9,815.5 248.2,817.0 248.6,818.5 249.0,819.9 249.3,821.4 249.7,822.8 250.1,824.3 250.6,825.7 251.0,827.1 251.5,828.6 251.9,830.0 252.4,831.4 252.8,832.8 253.3,834.3 253.7,835.7 254.1,837.1 254.5,838.6 254.9,840.0 255.2,841.5 255.5,843.0 255.8,844.4 256.0,845.9 256.3,847.4 256.6,848.9 256.9,850.3 257.2,851.8 257.5,853.3 257.9,854.7 258.2,856.2 258.6,857.6 259.0,859.1 259.4,860.5 259.9,862.0 260.3,863.4 260.7,864.8 261.1,866.3 261.6,867.7 262.0,869.1 262.4,870.6 262.8,872.0 263.2,873.5 263.6,874.9 264.0,876.4 264.3,877.8 264.7,879.3 265.0,880.7 265.4,882.2 265.7,883.7 266.1,885.1 266.5,886.6 266.8,888.0 267.2,889.5 267.6,890.9 267.9,892.4 268.3,893.8 268.7,895.3 269.2,896.7 269.6,898.2 270.0,899.6 270.4,901.0 270.9,902.5 271.3,903.9 271.7,905.3 272.2,906.8 272.6,908.2 273.0,909.7 273.4,911.1 273.8,912.5 274.2,914.0 274.5,915.4 274.9,916.9 275.2,918.4 275.5,919.8 275.8,921.3 276.1,922.8 276.4,924.2 276.7,925.7 277.0,927.2 277.3,928.6 277.6,930.1 278.0,931.6 278.3,933.0 278.7,934.5 279.1,935.9 279.4,937.4 279.8,938.8 280.2,940.3 280.6,941.7 281.0,943.2 281.4,944.6 281.8,946.1 282.2,947.5 282.6,948.9 283.0,950.4 283.4,951.8 283.8,953.3 284.1,954.8 284.5,956.2 284.9,957.7 285.2,959.1 285.6,960.6 286.0,962.0 286.3,963.5 286.7,964.9 287.1,966.4 287.5,967.8 288.0,969.2 288.4,970.7 288.8,972.1 289.2,973.6 289.7,975.0 290.1,976.4 290.5,977.9 291.0,979.3 291.4,980.7 291.8,982.2 292.2,983.6 292.6,985.1 293.0,986.5 293.3,988.0 293.7,989.4 294.1,990.9 294.4,992.3 294.8,993.8 295.2,995.2 295.6,996.7 296.0,998.1 296.4,999.6 296.8,1001.0 297.2,1002.5 297.7,1003.9 298.1,1005.3 298.6,1006.7 299.1,1008.2 299.5,1009.6 300.0,1011.0 300.5,1012.4 301.0,1013.8 301.5,1015.2 302.0,1016.7 302.5,1018.1 303.0,1019.5 303.5,1020.9 304.0,1022.3 304.5,1023.7 305.0,1025.1 305.5,1026.6 306.0,1028.0 306.4,1029.4 306.9,1030.8 307.3,1032.3 307.8,1033.7 308.2,1035.1 308.6,1036.6 309.1,1038.0 309.5,1039.5 309.9,1040.9 310.3,1042.3 310.8,1043.8 311.2,1045.2 311.6,1046.6 312.1,1048.1 312.6,1049.5 313.1,1050.9 313.7,1052.3 314.2,1053.7 314.8,1055.0 315.4,1056.4 316.0,1057.8 316.6,1059.1 317.3,1060.5 317.9,1061.9 318.5,1063.3 319.1,1064.6 319.7,1066.0 320.3,1067.4 320.8,1068.8 321.4,1070.2 322.0,1071.5 322.5,1072.9 323.1,1074.3 323.6,1075.7 324.2,1077.1 324.7,1078.5 325.2,1079.9 325.8,1081.3 326.3,1082.7 326.8,1084.1 327.4,1085.5 327.9,1086.9 328.5,1088.3 329.0,1089.7 329.5,1091.1 330.1,1092.5 330.6,1093.9 331.2,1095.3 331.8,1096.7 332.3,1098.1 332.9,1099.5 333.5,1100.8 334.1,1102.2 334.7,1103.6 335.3,1105.0 335.9,1106.3 336.6,1107.7 337.2,1109.0 337.9,1110.4 338.5,1111.7 339.2,1113.1 339.9,1114.4 340.5,1115.8 341.2,1117.1 341.9,1118.4 342.6,1119.7 343.4,1121.1 344.1,1122.4 344.8,1123.7 345.5,1125.0 346.3,1126.3 347.0,1127.6 347.8,1128.9 348.6,1130.2 349.4,1131.4 350.2,1132.7 351.0,1133.9 351.9,1135.2 352.8,1136.4 353.7,1137.6 354.6,1138.7 355.5,1139.9 356.5,1141.1 357.4,1142.2 358.4,1143.3 359.4,1144.5 360.4,1145.6 361.4,1146.7 362.4,1147.9 363.4,1149.0 364.4,1150.1 365.4,1151.2 366.5,1152.3 367.5,1153.4 368.5,1154.5 369.6,1155.6 370.7,1156.6 371.8,1157.6 372.9,1158.6 374.0,1159.6 375.2,1160.5 376.4,1161.4 377.6,1162.3 378.9,1163.1 380.1,1163.9 381.4,1164.7 382.7,1165.4 384.1,1166.1 385.4,1166.8 386.8,1167.4 388.1,1168.0 389.5,1168.6 390.9,1169.2 392.3,1169.7 393.7,1170.2 395.1,1170.7 396.6,1171.2 398.0,1171.6 399.4,1172.1 400.9,1172.5 402.3,1172.8 403.8,1173.2 405.3,1173.5 406.7,1173.9 408.2,1174.2 409.7,1174.4 411.1,1174.7 412.6,1174.9 414.1,1175.2 415.6,1175.4 417.1,1175.6 418.6,1175.7 420.0,1175.9 421.5,1176.1 423.0,1176.2 424.5,1176.4 426.0,1176.5 427.5,1176.6 429.0,1176.7 430.5,1176.8 432.0,1177.0 433.5,1177.1 435.0,1177.2 436.5,1177.3 438.0,1177.4 439.5,1177.4 441.0,1177.5 442.5,1177.6 444.0,1177.7 445.5,1177.8 447.0,1177.9 448.5,1177.9 450.0,1178.0 451.5,1178.1 453.0,1178.1 454.5,1178.2 456.0,1178.2 457.5,1178.3 459.0,1178.4 460.5,1178.4 462.0,1178.5 463.5,1178.5 464.9,1178.6 466.4,1178.6 467.9,1178.7 469.4,1178.7 470.9,1178.7 472.4,1178.8 473.9,1178.8 475.4,1178.9 476.9,1178.9 478.4,1178.9 479.9,1179.0 481.4,1179.0 482.9,1179.0 484.4,1179.0 485.9,1179.1 487.4,1179.1 488.9,1179.1 490.4,1179.2 491.9,1179.2 493.4,1179.2 494.9,1179.2 496.4,1179.2 497.9,1179.3 499.4,1179.3 500.9,1179.3 502.4,1179.3 503.9,1179.4 505.4,1179.4 506.9,1179.4 508.4,1179.4 509.9,1179.4 511.4,1179.5 512.9,1179.5 514.4,1179.5 515.9,1179.5 517.4,1179.5 518.9,1179.5 520.4,1179.6 521.9,1179.6 523.4,1179.6 524.9,1179.6 526.4,1179.6 527.9,1179.6 529.4,1179.7 530.9,1179.7 532.4,1179.7 533.9,1179.7 535.4,1179.7 536.9,1179.7 538.4,1179.7 539.9,1179.7 541.4,1179.8 542.9,1179.8 544.4,1179.8 545.9,1179.8 547.4,1179.8 548.9,1179.8 550.4,1179.8 551.9,1179.8 553.4,1179.9 554.9,1179.9 556.4,1179.9 557.9,1179.9 559.4,1179.9 560.9,1179.9 562.4,1179.9 563.9,1179.9 565.4,1179.9 566.9,1179.9 568.4,1180.0 569.9,1180.0 571.4,1180.0 572.9,1180.0 574.4,1180.0 575.9,1180.0 577.4,1180.0 578.9,1180.0 580.4,1180.0 581.9,1180.0 583.4,1180.0 584.9,1180.0 586.4,1180.1 587.9,1180.1 589.4,1180.1 590.9,1180.1 592.4,1180.1 593.9,1180.1 595.4,1180.1 596.9,1180.1 598.4,1180.1 599.9,1180.1 601.4,1180.1 602.9,1180.1 604.4,1180.1 605.9,1180.1 607.4,1180.1 608.9,1180.2 610.4,1180.2 611.9,1180.2 613.4,1180.2 614.9,1180.2 616.4,1180.2 617.9,1180.2 619.4,1180.2 620.9,1180.2 622.4,1180.2 623.9,1180.2 625.4,1180.2 626.9,1180.2 628.3,1180.2 629.8,1180.2 631.3,1180.2 632.8,1180.3 634.3,1180.3 635.8,1180.3 637.3,1180.3 638.8,1180.3 640.3,1180.3 641.8,1180.3 643.3,1180.3 644.8,1180.3 646.3,1180.3 647.8,1180.3 649.3,1180.3 650.8,1180.3 652.3,1180.3 653.8,1180.3 655.3,1180.3 656.8,1180.4 658.3,1180.4 659.8,1180.4 661.3,1180.4 662.8,1180.4 664.3,1180.4 665.8,1180.4 667.3,1180.4 668.8,1180.4 670.3,1180.4 671.8,1180.4 673.3,1180.4 674.8,1180.4 676.3,1180.4 677.8,1180.4 679.3,1180.4 680.8,1180.5 682.3,1180.5 683.8,1180.5 685.3,1180.5 686.8,1180.5 688.3,1180.5 689.8,1180.5 691.3,1180.5 692.8,1180.5 694.3,1180.5 695.8,1180.5 697.3,1180.5 698.8,1180.5 700.3,1180.5 701.8,1180.5 703.3,1180.5 704.8,1180.6 706.3,1180.6 707.8,1180.6 709.3,1180.6 710.8,1180.6 712.3,1180.6 713.8,1180.6 715.3,1180.6 716.8,1180.6" stroke="#333333" stroke-width="1.1" fill="none" stroke-dasharray="7.5 3.5"/>
<path d="M207.7,784.0L209.1,784.4 210.6,784.8 211.9,785.3 213.2,786.0 214.4,786.8 215.6,787.7 216.6,788.7 217.6,789.8 218.5,791.0 219.4,792.3 220.3,793.5 221.1,794.7 222.0,795.9 222.8,797.2 223.6,798.5 224.4,799.7 225.1,801.0 225.9,802.3 226.6,803.7 227.3,805.0 228.0,806.3 228.7,807.6 229.4,809.0 230.1,810.3 230.7,811.7 231.3,813.0 231.9,814.4 232.5,815.8 233.1,817.2 233.6,818.6 234.1,820.0 234.7,821.4 235.2,822.8 235.7,824.2 236.2,825.6 236.7,827.0 237.2,828.4 237.7,829.8 238.2,831.2 238.7,832.7 239.2,834.1 239.7,835.5 240.2,836.9 240.7,838.3 241.2,839.7 241.7,841.1 242.2,842.5 242.8,843.9 243.4,845.3 243.9,846.7 244.6,848.1 245.2,849.4 245.8,850.8 246.4,852.2 247.0,853.5 247.6,854.9 248.2,856.3 248.7,857.7 249.3,859.1 249.8,860.5 250.3,861.9 250.9,863.3 251.4,864.7 251.8,866.1 252.3,867.6 252.8,869.0 253.3,870.4 253.7,871.8 254.2,873.3 254.6,874.7 255.1,876.1 255.6,877.5 256.0,879.0 256.5,880.4 257.0,881.8 257.5,883.2 258.0,884.6 258.5,886.0 259.1,887.4 259.6,888.8 260.2,890.2 260.7,891.6 261.2,893.0 261.8,894.4 262.2,895.8 262.7,897.3 263.2,898.7 263.6,900.1 264.0,901.6 264.4,903.0 264.9,904.4 265.3,905.9 265.7,907.3 266.1,908.8 266.6,910.2 267.0,911.6 267.4,913.1 267.9,914.5 268.3,915.9 268.8,917.3 269.2,918.8 269.7,920.2 270.1,921.6 270.6,923.1 271.0,924.5 271.5,925.9 272.0,927.3 272.4,928.8 272.9,930.2 273.4,931.6 273.8,933.0 274.3,934.5 274.8,935.9 275.2,937.3 275.7,938.7 276.2,940.2 276.6,941.6 277.1,943.0 277.6,944.4 278.1,945.8 278.6,947.2 279.1,948.7 279.6,950.1 280.1,951.5 280.6,952.9 281.1,954.3 281.6,955.7 282.1,957.1 282.6,958.6 283.1,960.0 283.5,961.4 284.0,962.8 284.5,964.2 285.0,965.7 285.5,967.1 286.0,968.5 286.5,969.9 287.0,971.3 287.5,972.7 288.1,974.1 288.6,975.5 289.1,976.9 289.6,978.3 290.2,979.7 290.7,981.1 291.2,982.5 291.7,983.9 292.2,985.4 292.7,986.8 293.2,988.2 293.7,989.6 294.2,991.0 294.7,992.4 295.1,993.9 295.6,995.3 296.0,996.7 296.5,998.2 296.9,999.6 297.3,1001.0 297.8,1002.5 298.2,1003.9 298.7,1005.3 299.1,1006.8 299.6,1008.2 300.1,1009.6 300.6,1011.0 301.1,1012.4 301.6,1013.8 302.2,1015.2 302.7,1016.6 303.2,1018.0 303.7,1019.4 304.2,1020.8 304.8,1022.3 305.3,1023.7 305.8,1025.1 306.3,1026.5 306.9,1027.9 307.4,1029.3 308.0,1030.6 308.6,1032.0 309.2,1033.4 309.8,1034.7 310.5,1036.1 311.1,1037.5 311.7,1038.8 312.4,1040.2 313.0,1041.5 313.7,1042.9 314.3,1044.2 314.9,1045.6 315.5,1047.0 316.1,1048.3 316.8,1049.7 317.4,1051.1 318.0,1052.4 318.6,1053.8 319.3,1055.2 319.9,1056.5 320.5,1057.9 321.2,1059.2 321.8,1060.6 322.4,1062.0 323.0,1063.3 323.6,1064.7 324.2,1066.1 324.9,1067.4 325.5,1068.8 326.1,1070.2 326.7,1071.5 327.4,1072.9 328.0,1074.2 328.7,1075.5 329.5,1076.9 330.2,1078.2 331.0,1079.4 331.8,1080.7 332.6,1082.0 333.4,1083.2 334.3,1084.5 335.1,1085.7 336.0,1086.9 336.8,1088.2 337.6,1089.4 338.4,1090.7 339.2,1092.0 340.0,1093.2 340.7,1094.5 341.5,1095.8 342.2,1097.1 343.0,1098.4 343.7,1099.8 344.4,1101.1 345.2,1102.4 345.9,1103.7 346.6,1105.0 347.4,1106.3 348.1,1107.6 348.9,1108.9 349.6,1110.2 350.4,1111.5 351.2,1112.8 352.0,1114.0 352.8,1115.3 353.7,1116.5 354.5,1117.8 355.4,1119.0 356.3,1120.2 357.2,1121.4 358.1,1122.6 359.0,1123.7 360.0,1124.9 360.9,1126.0 361.9,1127.2 362.9,1128.3 363.9,1129.4 364.9,1130.5 365.9,1131.7 366.9,1132.8 367.9,1133.9 368.9,1135.0 370.0,1136.1 371.0,1137.2 372.1,1138.3 373.1,1139.3 374.2,1140.3 375.3,1141.3 376.5,1142.3 377.6,1143.3 378.8,1144.2 380.0,1145.1 381.2,1145.9 382.5,1146.8 383.7,1147.6 385.0,1148.4 386.2,1149.2 387.5,1150.1 388.7,1150.9 390.0,1151.7 391.2,1152.6 392.4,1153.5 393.7,1154.3 394.9,1155.2 396.1,1156.1 397.3,1156.9 398.6,1157.8 399.8,1158.6 401.1,1159.4 402.4,1160.1 403.7,1160.9 405.0,1161.6 406.4,1162.3 407.7,1162.9 409.1,1163.5 410.5,1164.1 411.9,1164.6 413.3,1165.1 414.7,1165.5 416.2,1165.9 417.6,1166.3 419.1,1166.7 420.6,1167.0 422.0,1167.3 423.5,1167.6 425.0,1167.9 426.5,1168.1 427.9,1168.4 429.4,1168.6 430.9,1168.9 432.4,1169.1 433.9,1169.3 435.3,1169.6 436.8,1169.8 438.3,1170.0 439.8,1170.2 441.3,1170.4 442.8,1170.6 444.3,1170.8 445.7,1171.0 447.2,1171.2 448.7,1171.3 450.2,1171.5 451.7,1171.7 453.2,1171.8 454.7,1172.0 456.2,1172.1 457.7,1172.3 459.2,1172.4 460.7,1172.6 462.1,1172.7 463.6,1172.8 465.1,1173.0 466.6,1173.1 468.1,1173.2 469.6,1173.3 471.1,1173.4 472.6,1173.4 474.1,1173.5 475.6,1173.6 477.1,1173.7 478.6,1173.8 480.1,1173.8 481.6,1173.9 483.1,1174.0 484.6,1174.0 486.1,1174.1 487.6,1174.2 489.1,1174.3 490.6,1174.3 492.1,1174.4 493.6,1174.5 495.1,1174.6 496.6,1174.7 498.1,1174.7 499.6,1174.8 501.1,1174.9 502.6,1175.0 504.0,1175.1 505.5,1175.2 507.0,1175.3 508.5,1175.4 510.0,1175.5 511.5,1175.6 513.0,1175.7 514.5,1175.8 516.0,1175.9 517.5,1176.0 519.0,1176.0 520.5,1176.1 522.0,1176.2 523.5,1176.3 525.0,1176.4 526.5,1176.5 528.0,1176.6 529.5,1176.7 531.0,1176.8 532.5,1176.9 534.0,1176.9 535.5,1177.0 537.0,1177.1 538.5,1177.2 540.0,1177.3 541.5,1177.3 543.0,1177.4 544.5,1177.5 545.9,1177.6 547.4,1177.6 548.9,1177.7 550.4,1177.8 551.9,1177.8 553.4,1177.9 554.9,1177.9 556.4,1178.0 557.9,1178.1 559.4,1178.1 560.9,1178.2 562.4,1178.2 563.9,1178.3 565.4,1178.3 566.9,1178.4 568.4,1178.4 569.9,1178.5 571.4,1178.5 572.9,1178.6 574.4,1178.6 575.9,1178.7 577.4,1178.7 578.9,1178.7 580.4,1178.8 581.9,1178.8 583.4,1178.9 584.9,1178.9 586.4,1178.9 587.9,1179.0 589.4,1179.0 590.9,1179.0 592.4,1179.1 593.9,1179.1 595.4,1179.1 596.9,1179.2 598.4,1179.2 599.9,1179.2 601.4,1179.3 602.9,1179.3 604.4,1179.3 605.9,1179.4 607.4,1179.4 608.9,1179.4 610.4,1179.5 611.9,1179.5 613.4,1179.5 614.9,1179.6 616.4,1179.6 617.9,1179.6 619.4,1179.7 620.9,1179.7 622.4,1179.7 623.9,1179.7 625.4,1179.8 626.9,1179.8 628.4,1179.8 629.9,1179.8 631.4,1179.9 632.9,1179.9 634.4,1179.9 635.9,1179.9 637.4,1180.0 638.9,1180.0 640.4,1180.0 641.9,1180.0 643.3,1180.0 644.8,1180.1 646.3,1180.1 647.8,1180.1 649.3,1180.1 650.8,1180.1 652.3,1180.2 653.8,1180.2 655.3,1180.2 656.8,1180.2 658.3,1180.2 659.8,1180.2 661.3,1180.3 662.8,1180.3 664.3,1180.3 665.8,1180.3 667.3,1180.3 668.8,1180.3 670.3,1180.3 671.8,1180.3 673.3,1180.4 674.8,1180.4 676.3,1180.4 677.8,1180.4 679.3,1180.4 680.8,1180.4 682.3,1180.4 683.8,1180.4 685.3,1180.4 686.8,1180.4 688.3,1180.5 689.8,1180.5 691.3,1180.5 692.8,1180.5 694.3,1180.5 695.8,1180.5 697.3,1180.5 698.8,1180.5 700.3,1180.5 701.8,1180.5 703.3,1180.5 704.8,1180.5 706.3,1180.6 707.8,1180.6 709.3,1180.6 710.8,1180.6 712.3,1180.6 713.8,1180.6 715.3,1180.6 716.8,1180.6" stroke="#333333" stroke-width="1.1" fill="none" stroke-dasharray="1 3 7.5 3"/>
<path d="M207.9,713.0L209.2,713.6 210.6,714.3 211.9,715.0 213.1,715.8 214.3,716.7 215.4,717.7 216.5,718.7 217.5,719.8 218.4,721.0 219.3,722.2 220.1,723.5 220.9,724.7 221.7,726.0 222.5,727.3 223.2,728.6 223.9,729.9 224.6,731.3 225.3,732.6 225.9,734.0 226.5,735.3 227.1,736.7 227.7,738.1 228.2,739.5 228.7,740.9 229.2,742.3 229.6,743.8 230.1,745.2 230.5,746.6 230.9,748.1 231.3,749.5 231.8,751.0 232.2,752.4 232.7,753.8 233.1,755.2 233.6,756.6 234.2,758.0 234.7,759.4 235.2,760.8 235.7,762.3 236.2,763.7 236.7,765.1 237.1,766.5 237.5,768.0 237.9,769.4 238.3,770.9 238.7,772.3 239.1,773.8 239.4,775.2 239.7,776.7 240.0,778.1 240.4,779.6 240.7,781.1 241.0,782.5 241.3,784.0 241.7,785.4 242.1,786.9 242.5,788.3 242.9,789.8 243.3,791.2 243.7,792.7 244.0,794.1 244.4,795.6 244.8,797.0 245.1,798.5 245.4,799.9 245.8,801.4 246.1,802.9 246.4,804.3 246.7,805.8 247.0,807.3 247.3,808.7 247.6,810.2 247.9,811.7 248.3,813.1 248.6,814.6 248.9,816.1 249.3,817.5 249.7,819.0 250.1,820.4 250.4,821.9 250.8,823.3 251.3,824.7 251.7,826.2 252.2,827.6 252.6,829.0 253.1,830.4 253.6,831.9 254.0,833.3 254.4,834.7 254.9,836.2 255.2,837.6 255.6,839.1 255.9,840.5 256.2,842.0 256.5,843.5 256.7,845.0 257.0,846.4 257.3,847.9 257.7,849.4 258.0,850.8 258.5,852.2 258.9,853.6 259.5,855.0 260.0,856.4 260.5,857.9 260.9,859.3 261.3,860.7 261.7,862.2 262.1,863.6 262.4,865.1 262.7,866.5 263.0,868.0 263.3,869.5 263.7,870.9 264.0,872.4 264.4,873.8 264.8,875.3 265.1,876.7 265.5,878.2 265.9,879.6 266.3,881.1 266.7,882.5 267.0,884.0 267.4,885.4 267.7,886.9 268.1,888.4 268.4,889.8 268.7,891.3 269.0,892.7 269.4,894.2 269.7,895.7 270.0,897.1 270.4,898.6 270.7,900.0 271.1,901.5 271.5,902.9 271.9,904.4 272.3,905.8 272.8,907.2 273.2,908.7 273.7,910.1 274.2,911.5 274.7,912.9 275.1,914.4 275.6,915.8 276.0,917.2 276.4,918.7 276.8,920.1 277.1,921.6 277.4,923.0 277.7,924.5 278.0,926.0 278.3,927.5 278.5,928.9 278.8,930.4 279.1,931.9 279.4,933.3 279.8,934.8 280.2,936.2 280.6,937.7 281.0,939.1 281.4,940.6 281.8,942.0 282.2,943.4 282.6,944.9 283.0,946.3 283.4,947.8 283.8,949.2 284.2,950.7 284.6,952.1 285.0,953.5 285.4,955.0 285.8,956.4 286.1,957.9 286.5,959.3 286.8,960.8 287.2,962.3 287.5,963.7 287.8,965.2 288.2,966.6 288.6,968.1 289.0,969.5 289.4,971.0 289.8,972.4 290.2,973.8 290.7,975.3 291.1,976.7 291.5,978.1 292.0,979.6 292.4,981.0 292.9,982.4 293.3,983.9 293.7,985.3 294.1,986.8 294.5,988.2 294.9,989.6 295.3,991.1 295.6,992.5 296.0,994.0 296.3,995.5 296.7,996.9 297.1,998.4 297.5,999.8 297.9,1001.3 298.3,1002.7 298.8,1004.1 299.2,1005.5 299.7,1007.0 300.2,1008.4 300.7,1009.8 301.2,1011.2 301.7,1012.6 302.2,1014.0 302.6,1015.5 303.0,1016.9 303.4,1018.3 303.8,1019.8 304.2,1021.2 304.6,1022.7 305.0,1024.1 305.4,1025.6 305.9,1027.0 306.4,1028.4 307.0,1029.7 307.6,1031.1 308.2,1032.5 308.7,1033.9 309.3,1035.3 309.8,1036.7 310.2,1038.1 310.7,1039.5 311.1,1041.0 311.6,1042.4 312.0,1043.8 312.4,1045.3 312.8,1046.7 313.2,1048.2 313.6,1049.6 314.0,1051.0 314.4,1052.5 314.8,1053.9 315.2,1055.4 315.6,1056.8 316.1,1058.3 316.5,1059.7 317.0,1061.1 317.4,1062.5 317.9,1064.0 318.4,1065.4 318.9,1066.8 319.5,1068.2 320.0,1069.6 320.6,1071.0 321.1,1072.3 321.7,1073.7 322.3,1075.1 322.9,1076.5 323.5,1077.9 324.0,1079.2 324.6,1080.6 325.2,1082.0 325.7,1083.4 326.2,1084.8 326.7,1086.2 327.2,1087.6 327.7,1089.1 328.2,1090.5 328.7,1091.9 329.2,1093.3 329.8,1094.7 330.3,1096.1 330.9,1097.4 331.5,1098.8 332.2,1100.2 332.8,1101.5 333.3,1102.9 333.9,1104.3 334.4,1105.7 335.0,1107.1 335.5,1108.5 336.1,1109.9 336.7,1111.2 337.3,1112.6 338.0,1113.9 338.7,1115.3 339.4,1116.6 340.0,1117.9 340.7,1119.3 341.4,1120.6 342.0,1122.0 342.7,1123.3 343.3,1124.7 344.0,1126.0 344.7,1127.3 345.4,1128.7 346.1,1130.0 346.9,1131.3 347.6,1132.6 348.4,1133.8 349.2,1135.1 350.1,1136.3 350.9,1137.6 351.7,1138.9 352.5,1140.1 353.2,1141.4 354.0,1142.7 354.8,1144.0 355.6,1145.2 356.4,1146.5 357.3,1147.7 358.2,1148.9 359.1,1150.1 360.0,1151.3 361.0,1152.4 362.0,1153.6 363.0,1154.6 364.1,1155.7 365.1,1156.8 366.2,1157.8 367.4,1158.8 368.5,1159.7 369.7,1160.7 370.8,1161.6 372.0,1162.5 373.3,1163.4 374.5,1164.2 375.8,1165.0 377.1,1165.7 378.4,1166.5 379.7,1167.2 381.0,1167.9 382.4,1168.6 383.7,1169.2 385.1,1169.8 386.5,1170.4 387.9,1170.9 389.3,1171.4 390.7,1171.8 392.2,1172.2 393.6,1172.5 395.1,1172.8 396.6,1173.1 398.0,1173.4 399.5,1173.7 401.0,1174.0 402.5,1174.3 403.9,1174.6 405.4,1174.8 406.9,1175.1 408.4,1175.3 409.9,1175.5 411.3,1175.7 412.8,1175.9 414.3,1176.1 415.8,1176.2 417.3,1176.4 418.8,1176.6 420.3,1176.7 421.8,1176.8 423.3,1177.0 424.7,1177.1 426.2,1177.2 427.7,1177.3 429.2,1177.5 430.7,1177.6 432.2,1177.7 433.7,1177.8 435.2,1177.9 436.7,1177.9 438.2,1178.0 439.7,1178.1 441.2,1178.1 442.7,1178.2 444.2,1178.2 445.7,1178.3 447.2,1178.3 448.7,1178.3 450.2,1178.4 451.7,1178.4 453.2,1178.5 454.7,1178.5 456.2,1178.5 457.7,1178.6 459.2,1178.6 460.7,1178.6 462.2,1178.7 463.7,1178.7 465.2,1178.8 466.6,1178.8 468.1,1178.9 469.6,1178.9 471.1,1179.0 472.6,1179.0 474.1,1179.1 475.6,1179.1 477.1,1179.2 478.6,1179.2 480.1,1179.3 481.6,1179.3 483.1,1179.3 484.6,1179.4 486.1,1179.4 487.6,1179.4 489.1,1179.4 490.6,1179.4 492.1,1179.5 493.6,1179.5 495.1,1179.5 496.6,1179.5 498.1,1179.5 499.6,1179.5 501.1,1179.5 502.6,1179.5 504.1,1179.5 505.6,1179.5 507.1,1179.5 508.6,1179.5 510.1,1179.6 511.6,1179.6 513.1,1179.6 514.6,1179.6 516.1,1179.6 517.6,1179.6 519.1,1179.6 520.6,1179.6 522.1,1179.6 523.6,1179.6 525.1,1179.7 526.6,1179.7 528.1,1179.7 529.6,1179.7 531.1,1179.7 532.6,1179.7 534.0,1179.7 535.5,1179.8 537.0,1179.8 538.5,1179.8 540.0,1179.8 541.5,1179.8 543.0,1179.8 544.5,1179.8 546.0,1179.8 547.5,1179.8 549.0,1179.9 550.5,1179.9 552.0,1179.9 553.5,1179.9 555.0,1179.9 556.5,1179.9 558.0,1179.9 559.5,1179.9 561.0,1179.9 562.5,1179.9 564.0,1179.9 565.5,1179.9 567.0,1179.9 568.5,1179.9 570.0,1179.9 571.5,1179.9 573.0,1179.9 574.5,1179.9 576.0,1179.9 577.5,1179.9 579.0,1180.0 580.5,1180.0 582.0,1180.0 583.5,1180.0 585.0,1180.0 586.5,1180.0 588.0,1180.0 589.5,1180.0 591.0,1180.0 592.5,1180.0 594.0,1180.0 595.5,1180.1 597.0,1180.1 598.5,1180.1 600.0,1180.1 601.5,1180.1 603.0,1180.1 604.5,1180.1 606.0,1180.1 607.4,1180.1 608.9,1180.2 610.4,1180.2 611.9,1180.2 613.4,1180.2 614.9,1180.2 616.4,1180.2 617.9,1180.2 619.4,1180.2 620.9,1180.2 622.4,1180.2 623.9,1180.2 625.4,1180.2 626.9,1180.2 628.4,1180.2 629.9,1180.3 631.4,1180.3 632.9,1180.3 634.4,1180.3 635.9,1180.3 637.4,1180.3 638.9,1180.3 640.4,1180.3 641.9,1180.3 643.4,1180.3 644.9,1180.3 646.4,1180.3 647.9,1180.3 649.4,1180.3 650.9,1180.3 652.4,1180.3 653.9,1180.3 655.4,1180.4 656.9,1180.4 658.4,1180.4 659.9,1180.4 661.4,1180.4 662.9,1180.4 664.4,1180.4 665.9,1180.4 667.4,1180.4 668.9,1180.4 670.4,1180.4 671.9,1180.5 673.4,1180.5 674.9,1180.5 676.4,1180.5 677.9,1180.5 679.4,1180.5 680.8,1180.5 682.3,1180.5 683.8,1180.5 685.3,1180.5 686.8,1180.5 688.3,1180.5 689.8,1180.5 691.3,1180.5 692.8,1180.6 694.3,1180.6 695.8,1180.6 697.3,1180.6 698.8,1180.6 700.3,1180.6 701.8,1180.6 703.3,1180.6 704.8,1180.6 706.3,1180.6 707.8,1180.6 709.3,1180.6 710.8,1180.6 712.3,1180.6 713.8,1180.6 715.3,1180.6 716.8,1180.6" stroke="#111" stroke-width="1.0" fill="none"/>
<g fill="#000"><circle cx="207.8" cy="713.0" r="1.45"/><circle cx="208.9" cy="713.5" r="1.45"/><circle cx="210.0" cy="714.0" r="1.45"/><circle cx="211.1" cy="714.6" r="1.45"/><circle cx="212.2" cy="715.2" r="1.45"/><circle cx="213.3" cy="715.9" r="1.45"/><circle cx="214.4" cy="716.8" r="1.45"/><circle cx="215.5" cy="717.8" r="1.45"/><circle cx="216.6" cy="718.9" r="1.45"/><circle cx="217.8" cy="720.3" r="1.45"/><circle cx="219.0" cy="721.8" r="1.45"/><circle cx="220.1" cy="723.5" r="1.45"/><circle cx="221.3" cy="725.4" r="1.45"/><circle cx="222.5" cy="727.4" r="1.45"/><circle cx="223.8" cy="729.6" r="1.45"/><circle cx="225.0" cy="732.0" r="1.45"/><circle cx="226.2" cy="734.7" r="1.45"/><circle cx="227.5" cy="737.7" r="1.45"/><circle cx="228.8" cy="741.2" r="1.45"/><circle cx="230.1" cy="745.3" r="1.45"/><circle cx="231.4" cy="749.8" r="1.45"/><circle cx="232.7" cy="754.0" r="1.45"/><circle cx="234.1" cy="757.8" r="1.45"/><circle cx="235.4" cy="761.5" r="1.45"/><circle cx="236.8" cy="765.6" r="1.45"/><circle cx="238.2" cy="770.3" r="1.45"/><circle cx="239.6" cy="776.2" r="1.45"/><circle cx="241.0" cy="782.7" r="1.45"/><circle cx="242.5" cy="788.4" r="1.45"/><circle cx="244.0" cy="793.9" r="1.45"/><circle cx="245.5" cy="800.0" r="1.45"/><circle cx="247.0" cy="807.2" r="1.45"/><circle cx="248.5" cy="814.2" r="1.45"/><circle cx="250.1" cy="820.4" r="1.45"/><circle cx="251.6" cy="825.9" r="1.45"/><circle cx="253.2" cy="830.9" r="1.45"/><circle cx="254.9" cy="836.2" r="1.45"/><circle cx="256.5" cy="843.8" r="1.45"/><circle cx="258.2" cy="851.3" r="1.45"/><circle cx="259.9" cy="856.2" r="1.45"/><circle cx="261.6" cy="861.7" r="1.45"/><circle cx="263.4" cy="869.6" r="1.45"/><circle cx="265.1" cy="876.7" r="1.45"/><circle cx="266.9" cy="883.6" r="1.45"/><circle cx="268.8" cy="891.6" r="1.45"/><circle cx="270.6" cy="899.6" r="1.45"/><circle cx="272.5" cy="906.5" r="1.45"/><circle cx="274.5" cy="912.3" r="1.45"/><circle cx="276.4" cy="918.8" r="1.45"/><circle cx="278.4" cy="928.4" r="1.45"/><circle cx="280.5" cy="937.2" r="1.45"/><circle cx="282.5" cy="944.7" r="1.45"/><circle cx="284.6" cy="952.3" r="1.45"/><circle cx="286.8" cy="960.6" r="1.45"/><circle cx="289.0" cy="969.5" r="1.45"/><circle cx="291.2" cy="977.0" r="1.45"/><circle cx="293.4" cy="984.4" r="1.45"/><circle cx="295.7" cy="993.0" r="1.45"/><circle cx="298.1" cy="1002.0" r="1.45"/><circle cx="300.5" cy="1009.2" r="1.45"/><circle cx="302.9" cy="1016.5" r="1.45"/><circle cx="305.4" cy="1025.6" r="1.45"/><circle cx="307.9" cy="1032.0" r="1.45"/><circle cx="310.5" cy="1039.0" r="1.45"/><circle cx="313.2" cy="1048.1" r="1.45"/><circle cx="315.9" cy="1057.6" r="1.45"/><circle cx="318.6" cy="1066.0" r="1.45"/><circle cx="321.5" cy="1073.1" r="1.45"/><circle cx="324.3" cy="1080.0" r="1.45"/><circle cx="326.9" cy="1086.7" r="1.45"/><circle cx="329.9" cy="1095.1" r="1.45"/><circle cx="333.3" cy="1102.9" r="1.45"/><circle cx="336.4" cy="1110.5" r="1.45"/><circle cx="339.8" cy="1117.4" r="1.45"/><circle cx="343.6" cy="1125.1" r="1.45"/><circle cx="347.4" cy="1132.1" r="1.45"/><circle cx="351.5" cy="1138.6" r="1.45"/><circle cx="356.1" cy="1145.9" r="1.45"/><circle cx="361.0" cy="1152.5" r="1.45"/><circle cx="367.1" cy="1158.5" r="1.45"/><circle cx="373.5" cy="1163.5" r="1.45"/><circle cx="380.0" cy="1167.3" r="1.45"/><circle cx="387.5" cy="1170.8" r="1.45"/><circle cx="396.3" cy="1173.1" r="1.45"/><circle cx="405.4" cy="1174.8" r="1.45"/><circle cx="414.8" cy="1176.1" r="1.45"/><circle cx="425.1" cy="1177.1" r="1.45"/><circle cx="438.0" cy="1178.0" r="1.45"/><circle cx="451.2" cy="1178.4" r="1.45"/><circle cx="465.6" cy="1178.8" r="1.45"/><circle cx="481.6" cy="1179.3" r="1.45"/><circle cx="499.0" cy="1179.5" r="1.45"/><circle cx="518.3" cy="1179.6" r="1.45"/><circle cx="539.9" cy="1179.8" r="1.45"/><circle cx="562.3" cy="1179.9" r="1.45"/><circle cx="587.7" cy="1180.0" r="1.45"/><circle cx="615.8" cy="1180.2" r="1.45"/><circle cx="645.7" cy="1180.3" r="1.45"/><circle cx="679.5" cy="1180.5" r="1.45"/><circle cx="717.0" cy="1180.6" r="1.45"/></g>
<path d="M81.5,1181.0h9.2M86.1,1176.4v9.2M85.1,1119.5h9.2M89.7,1114.9v9.2M88.9,1109.5h9.2M93.5,1104.9v9.2M92.6,1073.6h9.2M97.2,1069.0v9.2M97.3,1066.0h9.2M101.9,1061.4v9.2M100.7,1048.5h9.2M105.3,1043.9v9.2M104.4,1041.3h9.2M109.0,1036.7v9.2M107.9,1026.8h9.2M112.5,1022.2v9.2M111.1,1026.8h9.2M115.7,1022.2v9.2M115.5,1009.0h9.2M120.1,1004.4v9.2M119.9,994.5h9.2M124.5,989.9v9.2M123.5,980.3h9.2M128.1,975.7v9.2M127.1,948.4h9.2M131.7,943.8v9.2M130.9,923.3h9.2M135.5,918.7v9.2M134.5,908.5h9.2M139.1,903.9v9.2M138.2,891.2h9.2M142.8,886.6v9.2M142.4,865.2h9.2M147.0,860.6v9.2M146.3,858.3h9.2M150.9,853.7v9.2M149.9,836.4h9.2M154.5,831.8v9.2M153.5,815.5h9.2M158.1,810.9v9.2M157.3,787.0h9.2M161.9,782.4v9.2M160.8,779.5h9.2M165.4,774.9v9.2M165.4,758.3h9.2M170.0,753.7v9.2M169.0,743.9h9.2M173.6,739.3v9.2M172.8,715.0h9.2M177.4,710.4v9.2M176.1,701.3h9.2M180.7,696.7v9.2M180.1,690.2h9.2M184.7,685.6v9.2M183.6,675.6h9.2M188.2,671.0v9.2M188.0,665.2h9.2M192.6,660.6v9.2M191.5,661.6h9.2M196.1,657.0v9.2M195.5,654.4h9.2M200.1,649.8v9.2M199.0,647.1h9.2M203.6,642.5v9.2M202.5,645.2h9.2M207.1,640.6v9.2M206.4,647.1h9.2M211.0,642.5v9.2M210.8,647.1h9.2M215.4,642.5v9.2M214.6,658.1h9.2M219.2,653.5v9.2M218.0,661.7h9.2M222.6,657.1v9.2M221.8,683.0h9.2M226.4,678.4v9.2M225.6,693.8h9.2M230.2,689.2v9.2M229.2,701.3h9.2M233.8,696.7v9.2M233.6,715.1h9.2M238.2,710.5v9.2M237.2,747.4h9.2M241.8,742.8v9.2M241.0,762.0h9.2M245.6,757.4v9.2M244.4,783.3h9.2M249.0,778.7v9.2M248.7,808.2h9.2M253.3,803.6v9.2M251.7,811.8h9.2M256.3,807.2v9.2M256.5,836.6h9.2M261.1,832.0v9.2M260.1,865.3h9.2M264.7,860.7v9.2M263.6,884.0h9.2M268.2,879.4v9.2M267.3,897.5h9.2M271.9,892.9v9.2M271.2,912.2h9.2M275.8,907.6v9.2M274.8,923.2h9.2M279.4,918.6v9.2M279.1,952.0h9.2M283.7,947.4v9.2M282.1,969.5h9.2M286.7,964.9v9.2M285.6,976.8h9.2M290.2,972.2v9.2M290.2,994.5h9.2M294.8,989.9v9.2M293.9,1009.1h9.2M298.5,1004.5v9.2M297.4,1026.7h9.2M302.0,1022.1v9.2M301.2,1048.6h9.2M305.8,1044.0v9.2M305.3,1062.6h9.2M309.9,1058.0v9.2M308.9,1087.6h9.2M313.5,1083.0v9.2M312.6,1113.1h9.2M317.2,1108.5v9.2M316.4,1116.8h9.2M321.0,1112.2v9.2M320.1,1127.0h9.2M324.7,1122.4v9.2M324.5,1145.3h9.2M329.1,1140.7v9.2M328.1,1181.2h9.2M332.7,1176.6v9.2" stroke="#2a2a2a" stroke-width="1.0" fill="none"/>
<rect x="407.5" y="651.9" width="324.2" height="107.5" fill="#fff" stroke="#4a4a4a" stroke-width="1.1"/>
<path d="M436.1,665.1h9.2M440.7,660.5v9.2" stroke="#222" stroke-width="1.05" fill="none"/>
<path d="M416.8,685.3H464.9" stroke="#333333" stroke-width="1.1"/>
<path d="M419.4,706.0H464.9" stroke="#333333" stroke-width="1.1" stroke-dasharray="7.3 2.95"/>
<path d="M416.8,726.4H464.9" stroke="#333333" stroke-width="1.1"/><circle cx="440.5" cy="726.4" r="1.45"/>
<path d="M416.8,747.0H464.9" stroke="#333333" stroke-width="1.1" stroke-dasharray="7 3 1 3"/>
<text x="469.7" y="670.9" font-size="16.2" textLength="141.93" lengthAdjust="spacingAndGlyphs">Experimental Data 1</text>
<text x="469.7" y="691.1" font-size="16.2">Grid3 60 NP E1 VC 2 ko circ N</text>
<text x="469.7" y="711.8" font-size="16.2">Grid3 60 NP E1 VC 2 ko sst circ N</text>
<text x="469.7" y="732.2" font-size="16.2">Grid3 60 NP E1 VC 2 ko sst tf circ N</text>
<text x="469.7" y="752.8" font-size="16.2">Grid3 60 NP E1 VC 2 rs circ N</text>
<text class="cap" x="377.4" y="1253.5" font-size="24.3" text-anchor="middle"><tspan font-weight="normal">(</tspan>b<tspan font-weight="normal">)</tspan></text>
</svg></body></html>
